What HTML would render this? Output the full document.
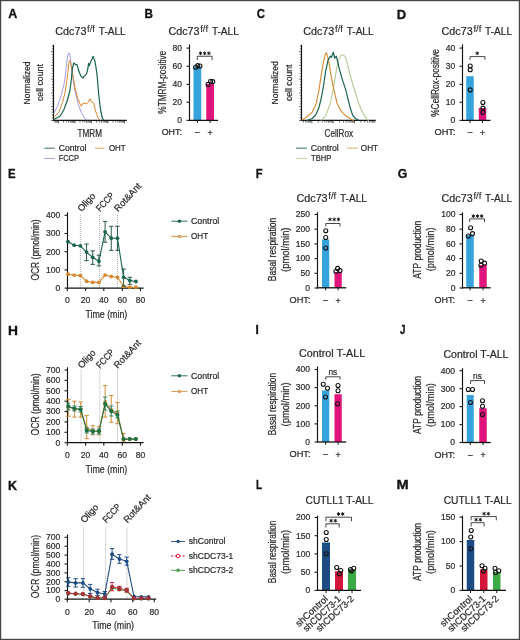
<!DOCTYPE html>
<html><head><meta charset="utf-8"><style>
html,body{margin:0;padding:0;background:#fff;width:520px;height:640px;overflow:hidden}
svg{display:block;font-family:"Liberation Sans",sans-serif;filter:blur(0.3px)}
text{stroke:#2a2a2a;stroke-width:0.22px}
</style></head><body>
<svg width="520" height="640" viewBox="0 0 520 640" font-family="Liberation Sans, sans-serif">
<rect x="0" y="0" width="520" height="640" fill="#fff"/>
<text transform="matrix(0.12519 0 0 0.12645 8.19 18.4)" x="0" y="0" font-size="100" font-weight="bold" fill="#111" style="stroke:#111;stroke-width:2.37">A</text>
<text x="55.3" y="34.8" font-size="10.4" text-anchor="start" font-weight="normal" fill="#2a2a2a" textLength="31.1" lengthAdjust="spacingAndGlyphs">Cdc73</text>
<text x="87.1" y="31.8" font-size="8.6" text-anchor="start" font-weight="normal" fill="#2a2a2a" textLength="7.9" lengthAdjust="spacingAndGlyphs" style="stroke-width:0.1px">f/f</text>
<text x="98.8" y="34.8" font-size="10.4" text-anchor="start" font-weight="normal" fill="#2a2a2a" textLength="26.9" lengthAdjust="spacingAndGlyphs">T-ALL</text>
<line x1="53.5" y1="44.7" x2="53.5" y2="121" stroke="#111" stroke-width="1.15"/>
<line x1="52.9" y1="120.4" x2="126.8" y2="120.4" stroke="#111" stroke-width="1.3"/>
<line x1="51.1" y1="120.4" x2="53.5" y2="120.4" stroke="#1a1a1a" stroke-width="0.7"/>
<line x1="51.9" y1="117.65" x2="53.5" y2="117.65" stroke="#1a1a1a" stroke-width="0.7"/>
<line x1="51.9" y1="114.9" x2="53.5" y2="114.9" stroke="#1a1a1a" stroke-width="0.7"/>
<line x1="51.9" y1="112.15" x2="53.5" y2="112.15" stroke="#1a1a1a" stroke-width="0.7"/>
<line x1="51.9" y1="109.4" x2="53.5" y2="109.4" stroke="#1a1a1a" stroke-width="0.7"/>
<line x1="51.1" y1="106.65" x2="53.5" y2="106.65" stroke="#1a1a1a" stroke-width="0.7"/>
<line x1="51.9" y1="103.9" x2="53.5" y2="103.9" stroke="#1a1a1a" stroke-width="0.7"/>
<line x1="51.9" y1="101.15" x2="53.5" y2="101.15" stroke="#1a1a1a" stroke-width="0.7"/>
<line x1="51.9" y1="98.4" x2="53.5" y2="98.4" stroke="#1a1a1a" stroke-width="0.7"/>
<line x1="51.9" y1="95.65" x2="53.5" y2="95.65" stroke="#1a1a1a" stroke-width="0.7"/>
<line x1="51.1" y1="92.9" x2="53.5" y2="92.9" stroke="#1a1a1a" stroke-width="0.7"/>
<line x1="51.9" y1="90.15" x2="53.5" y2="90.15" stroke="#1a1a1a" stroke-width="0.7"/>
<line x1="51.9" y1="87.4" x2="53.5" y2="87.4" stroke="#1a1a1a" stroke-width="0.7"/>
<line x1="51.9" y1="84.65" x2="53.5" y2="84.65" stroke="#1a1a1a" stroke-width="0.7"/>
<line x1="51.9" y1="81.9" x2="53.5" y2="81.9" stroke="#1a1a1a" stroke-width="0.7"/>
<line x1="51.1" y1="79.15" x2="53.5" y2="79.15" stroke="#1a1a1a" stroke-width="0.7"/>
<line x1="51.9" y1="76.4" x2="53.5" y2="76.4" stroke="#1a1a1a" stroke-width="0.7"/>
<line x1="51.9" y1="73.65" x2="53.5" y2="73.65" stroke="#1a1a1a" stroke-width="0.7"/>
<line x1="51.9" y1="70.9" x2="53.5" y2="70.9" stroke="#1a1a1a" stroke-width="0.7"/>
<line x1="51.9" y1="68.15" x2="53.5" y2="68.15" stroke="#1a1a1a" stroke-width="0.7"/>
<line x1="51.1" y1="65.4" x2="53.5" y2="65.4" stroke="#1a1a1a" stroke-width="0.7"/>
<line x1="51.9" y1="62.65" x2="53.5" y2="62.65" stroke="#1a1a1a" stroke-width="0.7"/>
<line x1="51.9" y1="59.9" x2="53.5" y2="59.9" stroke="#1a1a1a" stroke-width="0.7"/>
<line x1="51.9" y1="57.15" x2="53.5" y2="57.15" stroke="#1a1a1a" stroke-width="0.7"/>
<line x1="51.9" y1="54.4" x2="53.5" y2="54.4" stroke="#1a1a1a" stroke-width="0.7"/>
<line x1="51.1" y1="51.65" x2="53.5" y2="51.65" stroke="#1a1a1a" stroke-width="0.7"/>
<line x1="51.9" y1="48.9" x2="53.5" y2="48.9" stroke="#1a1a1a" stroke-width="0.7"/>
<line x1="51.9" y1="46.15" x2="53.5" y2="46.15" stroke="#1a1a1a" stroke-width="0.7"/>
<line x1="54.84" y1="120.4" x2="54.84" y2="122.6" stroke="#222" stroke-width="0.65"/>
<line x1="55.94" y1="120.4" x2="55.94" y2="122.6" stroke="#222" stroke-width="0.65"/>
<line x1="56.9" y1="120.4" x2="56.9" y2="122.6" stroke="#222" stroke-width="0.65"/>
<line x1="57.75" y1="120.4" x2="57.75" y2="122.6" stroke="#222" stroke-width="0.65"/>
<line x1="58.5" y1="120.4" x2="58.5" y2="123.4" stroke="#222" stroke-width="0.65"/>
<line x1="63.47" y1="120.4" x2="63.47" y2="122.6" stroke="#222" stroke-width="0.65"/>
<line x1="66.37" y1="120.4" x2="66.37" y2="122.6" stroke="#222" stroke-width="0.65"/>
<line x1="68.43" y1="120.4" x2="68.43" y2="122.6" stroke="#222" stroke-width="0.65"/>
<line x1="70.03" y1="120.4" x2="70.03" y2="122.6" stroke="#222" stroke-width="0.65"/>
<line x1="71.34" y1="120.4" x2="71.34" y2="122.6" stroke="#222" stroke-width="0.65"/>
<line x1="72.44" y1="120.4" x2="72.44" y2="122.6" stroke="#222" stroke-width="0.65"/>
<line x1="73.4" y1="120.4" x2="73.4" y2="122.6" stroke="#222" stroke-width="0.65"/>
<line x1="74.25" y1="120.4" x2="74.25" y2="122.6" stroke="#222" stroke-width="0.65"/>
<line x1="75" y1="120.4" x2="75" y2="123.4" stroke="#222" stroke-width="0.65"/>
<line x1="79.97" y1="120.4" x2="79.97" y2="122.6" stroke="#222" stroke-width="0.65"/>
<line x1="82.87" y1="120.4" x2="82.87" y2="122.6" stroke="#222" stroke-width="0.65"/>
<line x1="84.93" y1="120.4" x2="84.93" y2="122.6" stroke="#222" stroke-width="0.65"/>
<line x1="86.53" y1="120.4" x2="86.53" y2="122.6" stroke="#222" stroke-width="0.65"/>
<line x1="87.84" y1="120.4" x2="87.84" y2="122.6" stroke="#222" stroke-width="0.65"/>
<line x1="88.94" y1="120.4" x2="88.94" y2="122.6" stroke="#222" stroke-width="0.65"/>
<line x1="89.9" y1="120.4" x2="89.9" y2="122.6" stroke="#222" stroke-width="0.65"/>
<line x1="90.75" y1="120.4" x2="90.75" y2="122.6" stroke="#222" stroke-width="0.65"/>
<line x1="91.5" y1="120.4" x2="91.5" y2="123.4" stroke="#222" stroke-width="0.65"/>
<line x1="96.47" y1="120.4" x2="96.47" y2="122.6" stroke="#222" stroke-width="0.65"/>
<line x1="99.37" y1="120.4" x2="99.37" y2="122.6" stroke="#222" stroke-width="0.65"/>
<line x1="101.43" y1="120.4" x2="101.43" y2="122.6" stroke="#222" stroke-width="0.65"/>
<line x1="103.03" y1="120.4" x2="103.03" y2="122.6" stroke="#222" stroke-width="0.65"/>
<line x1="104.34" y1="120.4" x2="104.34" y2="122.6" stroke="#222" stroke-width="0.65"/>
<line x1="105.44" y1="120.4" x2="105.44" y2="122.6" stroke="#222" stroke-width="0.65"/>
<line x1="106.4" y1="120.4" x2="106.4" y2="122.6" stroke="#222" stroke-width="0.65"/>
<line x1="107.25" y1="120.4" x2="107.25" y2="122.6" stroke="#222" stroke-width="0.65"/>
<line x1="108" y1="120.4" x2="108" y2="123.4" stroke="#222" stroke-width="0.65"/>
<line x1="112.97" y1="120.4" x2="112.97" y2="122.6" stroke="#222" stroke-width="0.65"/>
<line x1="115.87" y1="120.4" x2="115.87" y2="122.6" stroke="#222" stroke-width="0.65"/>
<line x1="117.93" y1="120.4" x2="117.93" y2="122.6" stroke="#222" stroke-width="0.65"/>
<line x1="119.53" y1="120.4" x2="119.53" y2="122.6" stroke="#222" stroke-width="0.65"/>
<line x1="120.84" y1="120.4" x2="120.84" y2="122.6" stroke="#222" stroke-width="0.65"/>
<line x1="121.94" y1="120.4" x2="121.94" y2="122.6" stroke="#222" stroke-width="0.65"/>
<line x1="122.9" y1="120.4" x2="122.9" y2="122.6" stroke="#222" stroke-width="0.65"/>
<line x1="123.75" y1="120.4" x2="123.75" y2="122.6" stroke="#222" stroke-width="0.65"/>
<line x1="124.5" y1="120.4" x2="124.5" y2="123.4" stroke="#222" stroke-width="0.65"/>
<polyline points="53.6,113.5 54.4,112.5 57.5,106.25 61.25,95 64.4,82.5 66.25,67.5 67.5,56.25 68.75,52.75 69.75,53.75 70.6,61.25 72.5,76.25 75,91.25 78.1,103.75 81.25,112.5 85,118.75 87.5,120" fill="none" stroke="#a899e0" stroke-width="1" stroke-linejoin="round"/>
<polyline points="53.6,117.5 54.4,116.9 58.75,112.5 62.5,102.5 65,92.5 67.5,76.25 68.75,63.75 69.6,60.6 70.6,63.1 72.5,72.5 75,87.5 77.5,97.5 80,103.75 81.25,106.25 83.1,103.1 86.25,103.75 88.1,102.5 90,98.75 91.25,101.9 93.75,103.1 95.6,111.25 98.1,118.1 100,120" fill="none" stroke="#d4892e" stroke-width="1" stroke-linejoin="round"/>
<polyline points="53.6,119.5 55,118.75 60,116.25 63.75,110 67.5,100 70,90 71.4,79 72.3,69 73.75,63 74.3,63.6 75.8,64.7 76.9,64.4 77.8,67.3 78.7,70.8 80.1,74.2 81,76.3 82.1,77.1 83,78 84.1,76.3 85.6,74.8 86.7,73.4 87.9,68.5 88.5,63.3 89.3,65.9 90.2,63.3 91.3,60.4 92.2,58.7 93.1,56.3 93.9,58.4 94.8,60.4 96,67.3 97.1,75.4 98.75,95 100.6,110 102.5,118.75 103.75,120" fill="none" stroke="#1a6550" stroke-width="1.2" stroke-linejoin="round"/>
<text transform="translate(30 82.9) rotate(-90)" x="0" y="0" font-size="9.8" text-anchor="middle" font-weight="normal" fill="#2a2a2a" textLength="43" lengthAdjust="spacingAndGlyphs">Normalized</text>
<text transform="translate(43.2 82.6) rotate(-90)" x="0" y="0" font-size="9.8" text-anchor="middle" font-weight="normal" fill="#2a2a2a" textLength="37" lengthAdjust="spacingAndGlyphs">cell count</text>
<text x="77.6" y="136.8" font-size="10" text-anchor="start" font-weight="normal" fill="#2a2a2a" textLength="24.4" lengthAdjust="spacingAndGlyphs">TMRM</text>
<line x1="44.3" y1="148.2" x2="54.7" y2="148.2" stroke="#3f6f62" stroke-width="1"/>
<text x="58.7" y="150.9" font-size="8.9" text-anchor="start" font-weight="normal" fill="#2a2a2a" textLength="27.7" lengthAdjust="spacingAndGlyphs">Control</text>
<line x1="95" y1="148.2" x2="104.4" y2="148.2" stroke="#d9a060" stroke-width="1"/>
<text x="108.9" y="150.9" font-size="8.9" text-anchor="start" font-weight="normal" fill="#2a2a2a" textLength="16.7" lengthAdjust="spacingAndGlyphs">OHT</text>
<line x1="44.3" y1="158.5" x2="54.7" y2="158.5" stroke="#a9a0d8" stroke-width="1"/>
<text x="58.7" y="160.6" font-size="8.9" text-anchor="start" font-weight="normal" fill="#2a2a2a" textLength="20.2" lengthAdjust="spacingAndGlyphs">FCCP</text>
<text transform="matrix(0.11803 0 0 0.12645 144.61 18.2)" x="0" y="0" font-size="100" font-weight="bold" fill="#111" style="stroke:#111;stroke-width:2.37">B</text>
<text x="168.4" y="34.8" font-size="10.4" text-anchor="start" font-weight="normal" fill="#2a2a2a" textLength="31.1" lengthAdjust="spacingAndGlyphs">Cdc73</text>
<text x="200.2" y="31.8" font-size="8.6" text-anchor="start" font-weight="normal" fill="#2a2a2a" textLength="7.9" lengthAdjust="spacingAndGlyphs" style="stroke-width:0.1px">f/f</text>
<text x="211.9" y="34.8" font-size="10.4" text-anchor="start" font-weight="normal" fill="#2a2a2a" textLength="26.9" lengthAdjust="spacingAndGlyphs">T-ALL</text>
<rect x="193.5" y="66.8" width="7.75" height="53.6" fill="#35a3dc"/>
<rect x="206.25" y="83.8" width="7.75" height="36.6" fill="#e0157c"/>
<line x1="189.5" y1="44.5" x2="189.5" y2="121" stroke="#111" stroke-width="1.15"/>
<line x1="188.9" y1="120.4" x2="218" y2="120.4" stroke="#111" stroke-width="1.3"/>
<line x1="186.5" y1="48.1" x2="189.5" y2="48.1" stroke="#1a1a1a" stroke-width="1.1"/>
<text x="182" y="50.9" font-size="9.3" text-anchor="end" font-weight="normal" fill="#2a2a2a" textLength="9.5" lengthAdjust="spacingAndGlyphs">80</text>
<line x1="186.5" y1="66.25" x2="189.5" y2="66.25" stroke="#1a1a1a" stroke-width="1.1"/>
<text x="182" y="69.05" font-size="9.3" text-anchor="end" font-weight="normal" fill="#2a2a2a" textLength="9.5" lengthAdjust="spacingAndGlyphs">60</text>
<line x1="186.5" y1="84.4" x2="189.5" y2="84.4" stroke="#1a1a1a" stroke-width="1.1"/>
<text x="182" y="87.2" font-size="9.3" text-anchor="end" font-weight="normal" fill="#2a2a2a" textLength="9.5" lengthAdjust="spacingAndGlyphs">40</text>
<line x1="186.5" y1="102.25" x2="189.5" y2="102.25" stroke="#1a1a1a" stroke-width="1.1"/>
<text x="182" y="105.05" font-size="9.3" text-anchor="end" font-weight="normal" fill="#2a2a2a" textLength="9.5" lengthAdjust="spacingAndGlyphs">20</text>
<line x1="186.5" y1="120.4" x2="189.5" y2="120.4" stroke="#1a1a1a" stroke-width="1.1"/>
<text x="182" y="123.2" font-size="9.3" text-anchor="end" font-weight="normal" fill="#2a2a2a" textLength="4.75" lengthAdjust="spacingAndGlyphs">0</text>
<line x1="197.4" y1="120.4" x2="197.4" y2="123" stroke="#1a1a1a" stroke-width="1"/>
<line x1="210.1" y1="120.4" x2="210.1" y2="123" stroke="#1a1a1a" stroke-width="1"/>
<circle cx="195.6" cy="67.25" r="2" fill="none" stroke="#111" stroke-width="1.1"/>
<circle cx="197.75" cy="65.6" r="2" fill="none" stroke="#111" stroke-width="1.1"/>
<circle cx="200" cy="66" r="2" fill="none" stroke="#111" stroke-width="1.1"/>
<circle cx="208.1" cy="84.4" r="2" fill="none" stroke="#111" stroke-width="1.1"/>
<circle cx="210.6" cy="81.25" r="2" fill="none" stroke="#111" stroke-width="1.1"/>
<circle cx="212.75" cy="81.6" r="2" fill="none" stroke="#111" stroke-width="1.1"/>
<path d="M197.25 60 V56.25 H212.1 V60" fill="none" stroke="#333" stroke-width="0.9"/>
<path d="M200.5 51.85L200.5 54.75M199.24 52.57L201.76 54.02M201.76 52.57L199.24 54.02" stroke="#1a1a1a" stroke-width="1.0" stroke-linecap="round"/>
<path d="M204.7 51.85L204.7 54.75M203.44 52.57L205.96 54.02M205.96 52.57L203.44 54.02" stroke="#1a1a1a" stroke-width="1.0" stroke-linecap="round"/>
<path d="M208.9 51.85L208.9 54.75M207.64 52.57L210.16 54.02M210.16 52.57L207.64 54.02" stroke="#1a1a1a" stroke-width="1.0" stroke-linecap="round"/>
<text x="161.7" y="135.3" font-size="8.7" text-anchor="start" font-weight="normal" fill="#2a2a2a" textLength="20.3" lengthAdjust="spacingAndGlyphs">OHT:</text>
<text x="197.4" y="135.4" font-size="8.7" text-anchor="middle" font-weight="normal" fill="#2a2a2a" textLength="4.6" lengthAdjust="spacingAndGlyphs">–</text>
<text x="210.1" y="136.2" font-size="8.9" text-anchor="middle" font-weight="normal" fill="#2a2a2a">+</text>
<text transform="translate(165.5 82.2) rotate(-90)" x="0" y="0" font-size="10" text-anchor="middle" font-weight="normal" fill="#2a2a2a" textLength="63" lengthAdjust="spacingAndGlyphs">%TMRM-positive</text>
<text transform="matrix(0.11468 0 0 0.12645 256.63 18.4)" x="0" y="0" font-size="100" font-weight="bold" fill="#111" style="stroke:#111;stroke-width:2.37">C</text>
<text x="303.2" y="34.8" font-size="10.4" text-anchor="start" font-weight="normal" fill="#2a2a2a" textLength="31.1" lengthAdjust="spacingAndGlyphs">Cdc73</text>
<text x="335" y="31.8" font-size="8.6" text-anchor="start" font-weight="normal" fill="#2a2a2a" textLength="7.9" lengthAdjust="spacingAndGlyphs" style="stroke-width:0.1px">f/f</text>
<text x="346.7" y="34.8" font-size="10.4" text-anchor="start" font-weight="normal" fill="#2a2a2a" textLength="26.9" lengthAdjust="spacingAndGlyphs">T-ALL</text>
<line x1="301.5" y1="44.7" x2="301.5" y2="121" stroke="#111" stroke-width="1.15"/>
<line x1="300.9" y1="120.4" x2="375.7" y2="120.4" stroke="#111" stroke-width="1.3"/>
<line x1="299.1" y1="120.4" x2="301.5" y2="120.4" stroke="#1a1a1a" stroke-width="0.7"/>
<line x1="299.9" y1="117.65" x2="301.5" y2="117.65" stroke="#1a1a1a" stroke-width="0.7"/>
<line x1="299.9" y1="114.9" x2="301.5" y2="114.9" stroke="#1a1a1a" stroke-width="0.7"/>
<line x1="299.9" y1="112.15" x2="301.5" y2="112.15" stroke="#1a1a1a" stroke-width="0.7"/>
<line x1="299.9" y1="109.4" x2="301.5" y2="109.4" stroke="#1a1a1a" stroke-width="0.7"/>
<line x1="299.1" y1="106.65" x2="301.5" y2="106.65" stroke="#1a1a1a" stroke-width="0.7"/>
<line x1="299.9" y1="103.9" x2="301.5" y2="103.9" stroke="#1a1a1a" stroke-width="0.7"/>
<line x1="299.9" y1="101.15" x2="301.5" y2="101.15" stroke="#1a1a1a" stroke-width="0.7"/>
<line x1="299.9" y1="98.4" x2="301.5" y2="98.4" stroke="#1a1a1a" stroke-width="0.7"/>
<line x1="299.9" y1="95.65" x2="301.5" y2="95.65" stroke="#1a1a1a" stroke-width="0.7"/>
<line x1="299.1" y1="92.9" x2="301.5" y2="92.9" stroke="#1a1a1a" stroke-width="0.7"/>
<line x1="299.9" y1="90.15" x2="301.5" y2="90.15" stroke="#1a1a1a" stroke-width="0.7"/>
<line x1="299.9" y1="87.4" x2="301.5" y2="87.4" stroke="#1a1a1a" stroke-width="0.7"/>
<line x1="299.9" y1="84.65" x2="301.5" y2="84.65" stroke="#1a1a1a" stroke-width="0.7"/>
<line x1="299.9" y1="81.9" x2="301.5" y2="81.9" stroke="#1a1a1a" stroke-width="0.7"/>
<line x1="299.1" y1="79.15" x2="301.5" y2="79.15" stroke="#1a1a1a" stroke-width="0.7"/>
<line x1="299.9" y1="76.4" x2="301.5" y2="76.4" stroke="#1a1a1a" stroke-width="0.7"/>
<line x1="299.9" y1="73.65" x2="301.5" y2="73.65" stroke="#1a1a1a" stroke-width="0.7"/>
<line x1="299.9" y1="70.9" x2="301.5" y2="70.9" stroke="#1a1a1a" stroke-width="0.7"/>
<line x1="299.9" y1="68.15" x2="301.5" y2="68.15" stroke="#1a1a1a" stroke-width="0.7"/>
<line x1="299.1" y1="65.4" x2="301.5" y2="65.4" stroke="#1a1a1a" stroke-width="0.7"/>
<line x1="299.9" y1="62.65" x2="301.5" y2="62.65" stroke="#1a1a1a" stroke-width="0.7"/>
<line x1="299.9" y1="59.9" x2="301.5" y2="59.9" stroke="#1a1a1a" stroke-width="0.7"/>
<line x1="299.9" y1="57.15" x2="301.5" y2="57.15" stroke="#1a1a1a" stroke-width="0.7"/>
<line x1="299.9" y1="54.4" x2="301.5" y2="54.4" stroke="#1a1a1a" stroke-width="0.7"/>
<line x1="299.1" y1="51.65" x2="301.5" y2="51.65" stroke="#1a1a1a" stroke-width="0.7"/>
<line x1="299.9" y1="48.9" x2="301.5" y2="48.9" stroke="#1a1a1a" stroke-width="0.7"/>
<line x1="299.9" y1="46.15" x2="301.5" y2="46.15" stroke="#1a1a1a" stroke-width="0.7"/>
<line x1="303.42" y1="120.4" x2="303.42" y2="122.6" stroke="#222" stroke-width="0.65"/>
<line x1="305.49" y1="120.4" x2="305.49" y2="122.6" stroke="#222" stroke-width="0.65"/>
<line x1="307.17" y1="120.4" x2="307.17" y2="122.6" stroke="#222" stroke-width="0.65"/>
<line x1="308.6" y1="120.4" x2="308.6" y2="122.6" stroke="#222" stroke-width="0.65"/>
<line x1="309.84" y1="120.4" x2="309.84" y2="122.6" stroke="#222" stroke-width="0.65"/>
<line x1="310.93" y1="120.4" x2="310.93" y2="122.6" stroke="#222" stroke-width="0.65"/>
<line x1="311.9" y1="120.4" x2="311.9" y2="123.4" stroke="#222" stroke-width="0.65"/>
<line x1="318.31" y1="120.4" x2="318.31" y2="122.6" stroke="#222" stroke-width="0.65"/>
<line x1="322.06" y1="120.4" x2="322.06" y2="122.6" stroke="#222" stroke-width="0.65"/>
<line x1="324.72" y1="120.4" x2="324.72" y2="122.6" stroke="#222" stroke-width="0.65"/>
<line x1="326.79" y1="120.4" x2="326.79" y2="122.6" stroke="#222" stroke-width="0.65"/>
<line x1="328.47" y1="120.4" x2="328.47" y2="122.6" stroke="#222" stroke-width="0.65"/>
<line x1="329.9" y1="120.4" x2="329.9" y2="122.6" stroke="#222" stroke-width="0.65"/>
<line x1="331.14" y1="120.4" x2="331.14" y2="122.6" stroke="#222" stroke-width="0.65"/>
<line x1="332.23" y1="120.4" x2="332.23" y2="122.6" stroke="#222" stroke-width="0.65"/>
<line x1="333.2" y1="120.4" x2="333.2" y2="123.4" stroke="#222" stroke-width="0.65"/>
<line x1="339.61" y1="120.4" x2="339.61" y2="122.6" stroke="#222" stroke-width="0.65"/>
<line x1="343.36" y1="120.4" x2="343.36" y2="122.6" stroke="#222" stroke-width="0.65"/>
<line x1="346.02" y1="120.4" x2="346.02" y2="122.6" stroke="#222" stroke-width="0.65"/>
<line x1="348.09" y1="120.4" x2="348.09" y2="122.6" stroke="#222" stroke-width="0.65"/>
<line x1="349.77" y1="120.4" x2="349.77" y2="122.6" stroke="#222" stroke-width="0.65"/>
<line x1="351.2" y1="120.4" x2="351.2" y2="122.6" stroke="#222" stroke-width="0.65"/>
<line x1="352.44" y1="120.4" x2="352.44" y2="122.6" stroke="#222" stroke-width="0.65"/>
<line x1="353.53" y1="120.4" x2="353.53" y2="122.6" stroke="#222" stroke-width="0.65"/>
<line x1="354.5" y1="120.4" x2="354.5" y2="123.4" stroke="#222" stroke-width="0.65"/>
<line x1="360.91" y1="120.4" x2="360.91" y2="122.6" stroke="#222" stroke-width="0.65"/>
<line x1="364.66" y1="120.4" x2="364.66" y2="122.6" stroke="#222" stroke-width="0.65"/>
<line x1="367.32" y1="120.4" x2="367.32" y2="122.6" stroke="#222" stroke-width="0.65"/>
<line x1="369.39" y1="120.4" x2="369.39" y2="122.6" stroke="#222" stroke-width="0.65"/>
<line x1="371.07" y1="120.4" x2="371.07" y2="122.6" stroke="#222" stroke-width="0.65"/>
<line x1="372.5" y1="120.4" x2="372.5" y2="122.6" stroke="#222" stroke-width="0.65"/>
<line x1="373.74" y1="120.4" x2="373.74" y2="122.6" stroke="#222" stroke-width="0.65"/>
<line x1="374.83" y1="120.4" x2="374.83" y2="122.6" stroke="#222" stroke-width="0.65"/>
<polyline points="321.1,120.4 325.7,115.8 330.3,103.5 333.4,88.1 336.5,69.6 338.8,58.8 341.1,55 343.4,55 345.7,57.3 348,66.5 351.1,78.8 354.9,91.2 358.8,103.5 362.6,112.7 366.5,118.8 368.8,120.4" fill="none" stroke="#b9cda0" stroke-width="1.2" stroke-linejoin="round"/>
<polyline points="301.8,120.1 307.2,116.5 311.8,112.7 315.7,105 318.8,91.2 321.1,75.8 323.4,61.9 325.4,54.2 326.2,52.7 327.2,55 328.8,61.9 331.1,75.8 334.2,91.2 337.2,103.5 341.1,111.2 345.7,115.8 350.3,118.8 353.4,120.4" fill="none" stroke="#d4892e" stroke-width="1.1" stroke-linejoin="round"/>
<polyline points="307.2,120.4 311.8,118.8 315.7,115 318.8,108.1 321.1,98.8 323.4,86.5 325.7,71.2 328,60.4 330.3,56.1 331.5,57.3 333.3,52.2 334.7,58.1 336.2,56.1 337.6,61.5 339.5,69.6 342.6,80.4 345.7,89.6 348,98.8 350.3,108.1 352.6,115 355.7,118.8 358.8,120.4" fill="none" stroke="#1a6550" stroke-width="1.2" stroke-linejoin="round"/>
<text transform="translate(278 82.8) rotate(-90)" x="0" y="0" font-size="9.8" text-anchor="middle" font-weight="normal" fill="#2a2a2a" textLength="43.3" lengthAdjust="spacingAndGlyphs">Normalized</text>
<text transform="translate(291.5 82.8) rotate(-90)" x="0" y="0" font-size="9.8" text-anchor="middle" font-weight="normal" fill="#2a2a2a" textLength="36.6" lengthAdjust="spacingAndGlyphs">cell count</text>
<text x="324.5" y="137.2" font-size="10" text-anchor="start" font-weight="normal" fill="#2a2a2a" textLength="28.5" lengthAdjust="spacingAndGlyphs">CellRox</text>
<line x1="296" y1="148.2" x2="306.8" y2="148.2" stroke="#3f6f62" stroke-width="1"/>
<text x="310.8" y="150.9" font-size="8.9" text-anchor="start" font-weight="normal" fill="#2a2a2a" textLength="28" lengthAdjust="spacingAndGlyphs">Control</text>
<line x1="347" y1="148.2" x2="357.8" y2="148.2" stroke="#cfae70" stroke-width="1"/>
<text x="360.8" y="150.9" font-size="8.9" text-anchor="start" font-weight="normal" fill="#2a2a2a" textLength="17.3" lengthAdjust="spacingAndGlyphs">OHT</text>
<line x1="296" y1="158.5" x2="306.8" y2="158.5" stroke="#c8d8b0" stroke-width="1.2"/>
<text x="311" y="160.6" font-size="8.9" text-anchor="start" font-weight="normal" fill="#2a2a2a" textLength="20.3" lengthAdjust="spacingAndGlyphs">TBHP</text>
<text transform="matrix(0.13051 0 0 0.12645 396.73 18.5)" x="0" y="0" font-size="100" font-weight="bold" fill="#111" style="stroke:#111;stroke-width:2.37">D</text>
<text x="441.6" y="34.8" font-size="10.4" text-anchor="start" font-weight="normal" fill="#2a2a2a" textLength="31.1" lengthAdjust="spacingAndGlyphs">Cdc73</text>
<text x="473.4" y="31.8" font-size="8.6" text-anchor="start" font-weight="normal" fill="#2a2a2a" textLength="7.9" lengthAdjust="spacingAndGlyphs" style="stroke-width:0.1px">f/f</text>
<text x="485.1" y="34.8" font-size="10.4" text-anchor="start" font-weight="normal" fill="#2a2a2a" textLength="26.9" lengthAdjust="spacingAndGlyphs">T-ALL</text>
<rect x="466.25" y="76.25" width="7.5" height="44.15" fill="#35a3dc"/>
<rect x="478.75" y="108" width="7.5" height="12.4" fill="#e0157c"/>
<line x1="462.5" y1="44.5" x2="462.5" y2="121" stroke="#111" stroke-width="1.15"/>
<line x1="461.9" y1="120.4" x2="490.5" y2="120.4" stroke="#111" stroke-width="1.3"/>
<line x1="459.5" y1="48.1" x2="462.5" y2="48.1" stroke="#1a1a1a" stroke-width="1.1"/>
<text x="455.2" y="50.9" font-size="9.3" text-anchor="end" font-weight="normal" fill="#2a2a2a" textLength="9.5" lengthAdjust="spacingAndGlyphs">40</text>
<line x1="459.5" y1="66.25" x2="462.5" y2="66.25" stroke="#1a1a1a" stroke-width="1.1"/>
<text x="455.2" y="69.05" font-size="9.3" text-anchor="end" font-weight="normal" fill="#2a2a2a" textLength="9.5" lengthAdjust="spacingAndGlyphs">30</text>
<line x1="459.5" y1="84.4" x2="462.5" y2="84.4" stroke="#1a1a1a" stroke-width="1.1"/>
<text x="455.2" y="87.2" font-size="9.3" text-anchor="end" font-weight="normal" fill="#2a2a2a" textLength="9.5" lengthAdjust="spacingAndGlyphs">20</text>
<line x1="459.5" y1="102.25" x2="462.5" y2="102.25" stroke="#1a1a1a" stroke-width="1.1"/>
<text x="455.2" y="105.05" font-size="9.3" text-anchor="end" font-weight="normal" fill="#2a2a2a" textLength="9.5" lengthAdjust="spacingAndGlyphs">10</text>
<line x1="459.5" y1="120.4" x2="462.5" y2="120.4" stroke="#1a1a1a" stroke-width="1.1"/>
<text x="455.2" y="123.2" font-size="9.3" text-anchor="end" font-weight="normal" fill="#2a2a2a" textLength="4.75" lengthAdjust="spacingAndGlyphs">0</text>
<line x1="470" y1="120.4" x2="470" y2="123" stroke="#1a1a1a" stroke-width="1"/>
<line x1="482.5" y1="120.4" x2="482.5" y2="123" stroke="#1a1a1a" stroke-width="1"/>
<circle cx="470.2" cy="66" r="2" fill="none" stroke="#111" stroke-width="1.1"/>
<circle cx="470.2" cy="69.8" r="2" fill="none" stroke="#111" stroke-width="1.1"/>
<circle cx="470.2" cy="89.9" r="2" fill="none" stroke="#111" stroke-width="1.1"/>
<circle cx="482.9" cy="102.5" r="2" fill="none" stroke="#111" stroke-width="1.1"/>
<circle cx="482.9" cy="108.1" r="2" fill="none" stroke="#111" stroke-width="1.1"/>
<circle cx="482.9" cy="112.4" r="2" fill="none" stroke="#111" stroke-width="1.1"/>
<path d="M470 59.8 V56.6 H485 V59.8" fill="none" stroke="#333" stroke-width="0.9"/>
<path d="M477.2 51.85L477.2 54.75M475.94 52.57L478.46 54.02M478.46 52.57L475.94 54.02" stroke="#1a1a1a" stroke-width="1.0" stroke-linecap="round"/>
<text x="434.5" y="135.3" font-size="8.7" text-anchor="start" font-weight="normal" fill="#2a2a2a" textLength="21" lengthAdjust="spacingAndGlyphs">OHT:</text>
<text x="470" y="135.4" font-size="8.7" text-anchor="middle" font-weight="normal" fill="#2a2a2a" textLength="4.6" lengthAdjust="spacingAndGlyphs">–</text>
<text x="482.5" y="136.2" font-size="8.9" text-anchor="middle" font-weight="normal" fill="#2a2a2a">+</text>
<text transform="translate(438.5 83) rotate(-90)" x="0" y="0" font-size="10" text-anchor="middle" font-weight="normal" fill="#2a2a2a" textLength="67.6" lengthAdjust="spacingAndGlyphs">%CellRox-positive</text>
<text transform="matrix(0.11408 0 0 0.12645 8.04 177.5)" x="0" y="0" font-size="100" font-weight="bold" fill="#111" style="stroke:#111;stroke-width:2.37">E</text>
<line x1="80.4" y1="215" x2="80.4" y2="288.1" stroke="#808080" stroke-width="0.7" stroke-dasharray="0.9 1.1"/>
<line x1="99.5" y1="215" x2="99.5" y2="288.1" stroke="#808080" stroke-width="0.7" stroke-dasharray="0.9 1.1"/>
<line x1="117.5" y1="215" x2="117.5" y2="288.1" stroke="#808080" stroke-width="0.7" stroke-dasharray="0.9 1.1"/>
<line x1="67.5" y1="212.3" x2="67.5" y2="288.7" stroke="#111" stroke-width="1.15"/>
<line x1="66.9" y1="288.1" x2="143.6" y2="288.1" stroke="#111" stroke-width="1.3"/>
<line x1="64.5" y1="215.3" x2="67.5" y2="215.3" stroke="#1a1a1a" stroke-width="1.1"/>
<text x="60.2" y="218.1" font-size="9.3" text-anchor="end" font-weight="normal" fill="#2a2a2a" textLength="14.25" lengthAdjust="spacingAndGlyphs">400</text>
<line x1="64.5" y1="233.5" x2="67.5" y2="233.5" stroke="#1a1a1a" stroke-width="1.1"/>
<text x="60.2" y="236.3" font-size="9.3" text-anchor="end" font-weight="normal" fill="#2a2a2a" textLength="14.25" lengthAdjust="spacingAndGlyphs">300</text>
<line x1="64.5" y1="251.7" x2="67.5" y2="251.7" stroke="#1a1a1a" stroke-width="1.1"/>
<text x="60.2" y="254.5" font-size="9.3" text-anchor="end" font-weight="normal" fill="#2a2a2a" textLength="14.25" lengthAdjust="spacingAndGlyphs">200</text>
<line x1="64.5" y1="269.9" x2="67.5" y2="269.9" stroke="#1a1a1a" stroke-width="1.1"/>
<text x="60.2" y="272.7" font-size="9.3" text-anchor="end" font-weight="normal" fill="#2a2a2a" textLength="14.25" lengthAdjust="spacingAndGlyphs">100</text>
<line x1="64.5" y1="288.1" x2="67.5" y2="288.1" stroke="#1a1a1a" stroke-width="1.1"/>
<text x="60.2" y="290.9" font-size="9.3" text-anchor="end" font-weight="normal" fill="#2a2a2a" textLength="4.75" lengthAdjust="spacingAndGlyphs">0</text>
<line x1="67.3" y1="288.1" x2="67.3" y2="291.1" stroke="#1a1a1a" stroke-width="1.1"/>
<text x="67.3" y="302.5" font-size="9.3" text-anchor="middle" font-weight="normal" fill="#2a2a2a" textLength="4.75" lengthAdjust="spacingAndGlyphs">0</text>
<line x1="85.6" y1="288.1" x2="85.6" y2="291.1" stroke="#1a1a1a" stroke-width="1.1"/>
<text x="85.6" y="302.5" font-size="9.3" text-anchor="middle" font-weight="normal" fill="#2a2a2a" textLength="9.5" lengthAdjust="spacingAndGlyphs">20</text>
<line x1="103.8" y1="288.1" x2="103.8" y2="291.1" stroke="#1a1a1a" stroke-width="1.1"/>
<text x="103.8" y="302.5" font-size="9.3" text-anchor="middle" font-weight="normal" fill="#2a2a2a" textLength="9.5" lengthAdjust="spacingAndGlyphs">40</text>
<line x1="122.3" y1="288.1" x2="122.3" y2="291.1" stroke="#1a1a1a" stroke-width="1.1"/>
<text x="122.3" y="302.5" font-size="9.3" text-anchor="middle" font-weight="normal" fill="#2a2a2a" textLength="9.5" lengthAdjust="spacingAndGlyphs">60</text>
<line x1="140.5" y1="288.1" x2="140.5" y2="291.1" stroke="#1a1a1a" stroke-width="1.1"/>
<text x="140.5" y="302.5" font-size="9.3" text-anchor="middle" font-weight="normal" fill="#2a2a2a" textLength="9.5" lengthAdjust="spacingAndGlyphs">80</text>
<text transform="translate(81.4 212.2) rotate(-47)" x="0" y="0" font-size="9.4" text-anchor="start" font-weight="normal" fill="#2a2a2a" textLength="21.5" lengthAdjust="spacingAndGlyphs">Oligo</text>
<text transform="translate(100 212.2) rotate(-47)" x="0" y="0" font-size="9.4" text-anchor="start" font-weight="normal" fill="#2a2a2a" textLength="22" lengthAdjust="spacingAndGlyphs">FCCP</text>
<text transform="translate(118 212.2) rotate(-47)" x="0" y="0" font-size="9.4" text-anchor="start" font-weight="normal" fill="#2a2a2a" textLength="35" lengthAdjust="spacingAndGlyphs">Rot&amp;Ant</text>
<polyline points="68,274.2 74.18,275.1 80.36,275.6 86.54,281.2 92.72,282.4 98.9,282.4 105.08,275.1 111.26,276.5 117.44,277.3 123.62,286.3 129.8,287.2 135.98,287.2" fill="none" stroke="#d4892e" stroke-width="1.1" stroke-linejoin="round"/>
<circle cx="68" cy="274.2" r="1.9" fill="#d4892e"/>
<circle cx="74.18" cy="275.1" r="1.9" fill="#d4892e"/>
<circle cx="80.36" cy="275.6" r="1.9" fill="#d4892e"/>
<circle cx="86.54" cy="281.2" r="1.9" fill="#d4892e"/>
<circle cx="92.72" cy="282.4" r="1.9" fill="#d4892e"/>
<circle cx="98.9" cy="282.4" r="1.9" fill="#d4892e"/>
<circle cx="105.08" cy="275.1" r="1.9" fill="#d4892e"/>
<circle cx="111.26" cy="276.5" r="1.9" fill="#d4892e"/>
<circle cx="117.44" cy="277.3" r="1.9" fill="#d4892e"/>
<circle cx="123.62" cy="286.3" r="1.9" fill="#d4892e"/>
<circle cx="129.8" cy="287.2" r="1.9" fill="#d4892e"/>
<circle cx="135.98" cy="287.2" r="1.9" fill="#d4892e"/>
<line x1="86.54" y1="244" x2="86.54" y2="260.7" stroke="#21503f" stroke-width="0.95"/>
<line x1="84.34" y1="244" x2="88.74" y2="244" stroke="#21503f" stroke-width="0.95"/>
<line x1="84.34" y1="260.7" x2="88.74" y2="260.7" stroke="#21503f" stroke-width="0.95"/>
<line x1="92.72" y1="250.9" x2="92.72" y2="264.4" stroke="#21503f" stroke-width="0.95"/>
<line x1="90.52" y1="250.9" x2="94.92" y2="250.9" stroke="#21503f" stroke-width="0.95"/>
<line x1="90.52" y1="264.4" x2="94.92" y2="264.4" stroke="#21503f" stroke-width="0.95"/>
<line x1="98.9" y1="255.2" x2="98.9" y2="265.9" stroke="#21503f" stroke-width="0.95"/>
<line x1="96.7" y1="255.2" x2="101.1" y2="255.2" stroke="#21503f" stroke-width="0.95"/>
<line x1="96.7" y1="265.9" x2="101.1" y2="265.9" stroke="#21503f" stroke-width="0.95"/>
<line x1="105.08" y1="221.4" x2="105.08" y2="242.2" stroke="#21503f" stroke-width="0.95"/>
<line x1="102.88" y1="221.4" x2="107.28" y2="221.4" stroke="#21503f" stroke-width="0.95"/>
<line x1="102.88" y1="242.2" x2="107.28" y2="242.2" stroke="#21503f" stroke-width="0.95"/>
<line x1="111.26" y1="226.3" x2="111.26" y2="250.3" stroke="#21503f" stroke-width="0.95"/>
<line x1="109.06" y1="226.3" x2="113.46" y2="226.3" stroke="#21503f" stroke-width="0.95"/>
<line x1="109.06" y1="250.3" x2="113.46" y2="250.3" stroke="#21503f" stroke-width="0.95"/>
<line x1="117.44" y1="226.3" x2="117.44" y2="250.3" stroke="#21503f" stroke-width="0.95"/>
<line x1="115.24" y1="226.3" x2="119.64" y2="226.3" stroke="#21503f" stroke-width="0.95"/>
<line x1="115.24" y1="250.3" x2="119.64" y2="250.3" stroke="#21503f" stroke-width="0.95"/>
<line x1="123.62" y1="269" x2="123.62" y2="286" stroke="#21503f" stroke-width="0.95"/>
<line x1="121.42" y1="269" x2="125.82" y2="269" stroke="#21503f" stroke-width="0.95"/>
<line x1="121.42" y1="286" x2="125.82" y2="286" stroke="#21503f" stroke-width="0.95"/>
<line x1="129.8" y1="277.3" x2="129.8" y2="284.3" stroke="#21503f" stroke-width="0.95"/>
<line x1="127.6" y1="277.3" x2="132" y2="277.3" stroke="#21503f" stroke-width="0.95"/>
<line x1="127.6" y1="284.3" x2="132" y2="284.3" stroke="#21503f" stroke-width="0.95"/>
<polyline points="68,241.7 74.18,245.2 80.36,245.8 86.54,252.1 92.72,257.3 98.9,261.2 105.08,231.8 111.26,238.2 117.44,238.2 123.62,277.3 129.8,280.6 135.98,281.5" fill="none" stroke="#1a6550" stroke-width="1.1" stroke-linejoin="round"/>
<circle cx="68" cy="241.7" r="1.9" fill="#1a6550"/>
<circle cx="74.18" cy="245.2" r="1.9" fill="#1a6550"/>
<circle cx="80.36" cy="245.8" r="1.9" fill="#1a6550"/>
<circle cx="86.54" cy="252.1" r="1.9" fill="#1a6550"/>
<circle cx="92.72" cy="257.3" r="1.9" fill="#1a6550"/>
<circle cx="98.9" cy="261.2" r="1.9" fill="#1a6550"/>
<circle cx="105.08" cy="231.8" r="1.9" fill="#1a6550"/>
<circle cx="111.26" cy="238.2" r="1.9" fill="#1a6550"/>
<circle cx="117.44" cy="238.2" r="1.9" fill="#1a6550"/>
<circle cx="123.62" cy="277.3" r="1.9" fill="#1a6550"/>
<circle cx="129.8" cy="280.6" r="1.9" fill="#1a6550"/>
<circle cx="135.98" cy="281.5" r="1.9" fill="#1a6550"/>
<text transform="translate(38.8 250) rotate(-90)" x="0" y="0" font-size="10.8" text-anchor="middle" font-weight="normal" fill="#2a2a2a" textLength="61.2" lengthAdjust="spacingAndGlyphs">OCR (pmol/min)</text>
<text x="106.35" y="318" font-size="10.8" text-anchor="middle" font-weight="normal" fill="#2a2a2a" textLength="41.9" lengthAdjust="spacingAndGlyphs">Time (min)</text>
<line x1="171.25" y1="221.2" x2="187.5" y2="221.2" stroke="#1a6550" stroke-width="0.9"/>
<circle cx="179.4" cy="221.2" r="1.7" fill="#1a6550"/>
<text x="191" y="223.9" font-size="9.2" text-anchor="start" font-weight="normal" fill="#2a2a2a" textLength="28.2" lengthAdjust="spacingAndGlyphs">Control</text>
<line x1="171.25" y1="236.5" x2="187.5" y2="236.5" stroke="#dca060" stroke-width="1.3"/>
<circle cx="179.4" cy="236.5" r="1.7" fill="#dca060"/>
<text x="191" y="239.4" font-size="9.2" text-anchor="start" font-weight="normal" fill="#2a2a2a" textLength="17.1" lengthAdjust="spacingAndGlyphs">OHT</text>
<text transform="matrix(0.11144 0 0 0.12645 255.7 177.8)" x="0" y="0" font-size="100" font-weight="bold" fill="#111" style="stroke:#111;stroke-width:2.37">F</text>
<text x="296.5" y="201.8" font-size="10.4" text-anchor="start" font-weight="normal" fill="#2a2a2a" textLength="31.1" lengthAdjust="spacingAndGlyphs">Cdc73</text>
<text x="328.3" y="198.8" font-size="8.6" text-anchor="start" font-weight="normal" fill="#2a2a2a" textLength="7.9" lengthAdjust="spacingAndGlyphs" style="stroke-width:0.1px">f/f</text>
<text x="340" y="201.8" font-size="10.4" text-anchor="start" font-weight="normal" fill="#2a2a2a" textLength="26.9" lengthAdjust="spacingAndGlyphs">T-ALL</text>
<rect x="322" y="239.5" width="7.25" height="48.3" fill="#35a3dc"/>
<rect x="334.5" y="272.2" width="7.25" height="15.6" fill="#e0157c"/>
<line x1="317.5" y1="212.3" x2="317.5" y2="288.4" stroke="#111" stroke-width="1.15"/>
<line x1="316.9" y1="287.8" x2="346.25" y2="287.8" stroke="#111" stroke-width="1.3"/>
<line x1="314.5" y1="214.5" x2="317.5" y2="214.5" stroke="#1a1a1a" stroke-width="1.1"/>
<text x="309.9" y="217.3" font-size="9.3" text-anchor="end" font-weight="normal" fill="#2a2a2a" textLength="14.25" lengthAdjust="spacingAndGlyphs">250</text>
<line x1="314.5" y1="229.2" x2="317.5" y2="229.2" stroke="#1a1a1a" stroke-width="1.1"/>
<text x="309.9" y="232" font-size="9.3" text-anchor="end" font-weight="normal" fill="#2a2a2a" textLength="14.25" lengthAdjust="spacingAndGlyphs">200</text>
<line x1="314.5" y1="243.9" x2="317.5" y2="243.9" stroke="#1a1a1a" stroke-width="1.1"/>
<text x="309.9" y="246.7" font-size="9.3" text-anchor="end" font-weight="normal" fill="#2a2a2a" textLength="14.25" lengthAdjust="spacingAndGlyphs">150</text>
<line x1="314.5" y1="258.6" x2="317.5" y2="258.6" stroke="#1a1a1a" stroke-width="1.1"/>
<text x="309.9" y="261.4" font-size="9.3" text-anchor="end" font-weight="normal" fill="#2a2a2a" textLength="14.25" lengthAdjust="spacingAndGlyphs">100</text>
<line x1="314.5" y1="273.3" x2="317.5" y2="273.3" stroke="#1a1a1a" stroke-width="1.1"/>
<text x="309.9" y="276.1" font-size="9.3" text-anchor="end" font-weight="normal" fill="#2a2a2a" textLength="9.5" lengthAdjust="spacingAndGlyphs">50</text>
<line x1="314.5" y1="288" x2="317.5" y2="288" stroke="#1a1a1a" stroke-width="1.1"/>
<text x="309.9" y="290.8" font-size="9.3" text-anchor="end" font-weight="normal" fill="#2a2a2a" textLength="4.75" lengthAdjust="spacingAndGlyphs">0</text>
<line x1="325.6" y1="287.8" x2="325.6" y2="290.4" stroke="#1a1a1a" stroke-width="1"/>
<line x1="338.1" y1="287.8" x2="338.1" y2="290.4" stroke="#1a1a1a" stroke-width="1"/>
<circle cx="325.75" cy="230.75" r="2" fill="none" stroke="#111" stroke-width="1.1"/>
<circle cx="325.75" cy="237.5" r="2" fill="none" stroke="#111" stroke-width="1.1"/>
<circle cx="325.75" cy="248" r="2" fill="none" stroke="#111" stroke-width="1.1"/>
<circle cx="335.9" cy="271.3" r="2" fill="none" stroke="#111" stroke-width="1.1"/>
<circle cx="337.6" cy="268.4" r="2" fill="none" stroke="#111" stroke-width="1.1"/>
<circle cx="340" cy="270.6" r="2" fill="none" stroke="#111" stroke-width="1.1"/>
<path d="M325.75 226.5 V223.5 H340 V226.5" fill="none" stroke="#333" stroke-width="0.9"/>
<path d="M330 217.95L330 220.85M328.74 218.68L331.26 220.12M331.26 218.68L328.74 220.12" stroke="#1a1a1a" stroke-width="1.0" stroke-linecap="round"/>
<path d="M334.2 217.95L334.2 220.85M332.94 218.68L335.46 220.12M335.46 218.68L332.94 220.12" stroke="#1a1a1a" stroke-width="1.0" stroke-linecap="round"/>
<path d="M338.4 217.95L338.4 220.85M337.14 218.68L339.66 220.12M339.66 218.68L337.14 220.12" stroke="#1a1a1a" stroke-width="1.0" stroke-linecap="round"/>
<text x="289.5" y="302.6" font-size="8.7" text-anchor="start" font-weight="normal" fill="#2a2a2a" textLength="21" lengthAdjust="spacingAndGlyphs">OHT:</text>
<text x="325.6" y="302.7" font-size="8.7" text-anchor="middle" font-weight="normal" fill="#2a2a2a" textLength="4.6" lengthAdjust="spacingAndGlyphs">–</text>
<text x="338.1" y="303.5" font-size="8.9" text-anchor="middle" font-weight="normal" fill="#2a2a2a">+</text>
<text transform="translate(276.2 249.4) rotate(-90)" x="0" y="0" font-size="10.2" text-anchor="middle" font-weight="normal" fill="#2a2a2a" textLength="63.5" lengthAdjust="spacingAndGlyphs">Basal respiration</text>
<text transform="translate(288.8 249.7) rotate(-90)" x="0" y="0" font-size="10.2" text-anchor="middle" font-weight="normal" fill="#2a2a2a" textLength="44.4" lengthAdjust="spacingAndGlyphs">(pmol/min)</text>
<text transform="matrix(0.12296 0 0 0.12645 397.8 177.6)" x="0" y="0" font-size="100" font-weight="bold" fill="#111" style="stroke:#111;stroke-width:2.37">G</text>
<text x="441.6" y="201.8" font-size="10.4" text-anchor="start" font-weight="normal" fill="#2a2a2a" textLength="31.1" lengthAdjust="spacingAndGlyphs">Cdc73</text>
<text x="473.4" y="198.8" font-size="8.6" text-anchor="start" font-weight="normal" fill="#2a2a2a" textLength="7.9" lengthAdjust="spacingAndGlyphs" style="stroke-width:0.1px">f/f</text>
<text x="485.1" y="201.8" font-size="10.4" text-anchor="start" font-weight="normal" fill="#2a2a2a" textLength="26.9" lengthAdjust="spacingAndGlyphs">T-ALL</text>
<rect x="466.25" y="235" width="7.5" height="52.8" fill="#35a3dc"/>
<rect x="479.25" y="265" width="7.5" height="22.8" fill="#e0157c"/>
<line x1="462.5" y1="212.3" x2="462.5" y2="288.4" stroke="#111" stroke-width="1.15"/>
<line x1="461.9" y1="287.8" x2="490.75" y2="287.8" stroke="#111" stroke-width="1.3"/>
<line x1="459.5" y1="214.5" x2="462.5" y2="214.5" stroke="#1a1a1a" stroke-width="1.1"/>
<text x="455.5" y="217.3" font-size="9.3" text-anchor="end" font-weight="normal" fill="#2a2a2a" textLength="14.25" lengthAdjust="spacingAndGlyphs">100</text>
<line x1="459.5" y1="229.2" x2="462.5" y2="229.2" stroke="#1a1a1a" stroke-width="1.1"/>
<text x="455.5" y="232" font-size="9.3" text-anchor="end" font-weight="normal" fill="#2a2a2a" textLength="9.5" lengthAdjust="spacingAndGlyphs">80</text>
<line x1="459.5" y1="243.9" x2="462.5" y2="243.9" stroke="#1a1a1a" stroke-width="1.1"/>
<text x="455.5" y="246.7" font-size="9.3" text-anchor="end" font-weight="normal" fill="#2a2a2a" textLength="9.5" lengthAdjust="spacingAndGlyphs">60</text>
<line x1="459.5" y1="258.6" x2="462.5" y2="258.6" stroke="#1a1a1a" stroke-width="1.1"/>
<text x="455.5" y="261.4" font-size="9.3" text-anchor="end" font-weight="normal" fill="#2a2a2a" textLength="9.5" lengthAdjust="spacingAndGlyphs">40</text>
<line x1="459.5" y1="273.3" x2="462.5" y2="273.3" stroke="#1a1a1a" stroke-width="1.1"/>
<text x="455.5" y="276.1" font-size="9.3" text-anchor="end" font-weight="normal" fill="#2a2a2a" textLength="9.5" lengthAdjust="spacingAndGlyphs">20</text>
<line x1="459.5" y1="288" x2="462.5" y2="288" stroke="#1a1a1a" stroke-width="1.1"/>
<text x="455.5" y="290.8" font-size="9.3" text-anchor="end" font-weight="normal" fill="#2a2a2a" textLength="4.75" lengthAdjust="spacingAndGlyphs">0</text>
<line x1="470" y1="287.8" x2="470" y2="290.4" stroke="#1a1a1a" stroke-width="1"/>
<line x1="483" y1="287.8" x2="483" y2="290.4" stroke="#1a1a1a" stroke-width="1"/>
<circle cx="470.6" cy="227.7" r="2" fill="none" stroke="#111" stroke-width="1.1"/>
<circle cx="468.3" cy="236" r="2" fill="none" stroke="#111" stroke-width="1.1"/>
<circle cx="472.5" cy="233.6" r="2" fill="none" stroke="#111" stroke-width="1.1"/>
<circle cx="481.2" cy="261" r="2" fill="none" stroke="#111" stroke-width="1.1"/>
<circle cx="484.6" cy="263.1" r="2" fill="none" stroke="#111" stroke-width="1.1"/>
<circle cx="480.9" cy="265.2" r="2" fill="none" stroke="#111" stroke-width="1.1"/>
<path d="M469.7 222 V218.9 H484.5 V222" fill="none" stroke="#333" stroke-width="0.9"/>
<path d="M473.3 214.65L473.3 217.55M472.04 215.38L474.56 216.82M474.56 215.38L472.04 216.82" stroke="#1a1a1a" stroke-width="1.0" stroke-linecap="round"/>
<path d="M477.5 214.65L477.5 217.55M476.24 215.38L478.76 216.82M478.76 215.38L476.24 216.82" stroke="#1a1a1a" stroke-width="1.0" stroke-linecap="round"/>
<path d="M481.7 214.65L481.7 217.55M480.44 215.38L482.96 216.82M482.96 215.38L480.44 216.82" stroke="#1a1a1a" stroke-width="1.0" stroke-linecap="round"/>
<text x="434.5" y="302.6" font-size="8.7" text-anchor="start" font-weight="normal" fill="#2a2a2a" textLength="20.5" lengthAdjust="spacingAndGlyphs">OHT:</text>
<text x="470" y="302.7" font-size="8.7" text-anchor="middle" font-weight="normal" fill="#2a2a2a" textLength="4.6" lengthAdjust="spacingAndGlyphs">–</text>
<text x="483" y="303.5" font-size="8.9" text-anchor="middle" font-weight="normal" fill="#2a2a2a">+</text>
<text transform="translate(420.8 249.7) rotate(-90)" x="0" y="0" font-size="10.2" text-anchor="middle" font-weight="normal" fill="#2a2a2a" textLength="58.1" lengthAdjust="spacingAndGlyphs">ATP production</text>
<text transform="translate(433.5 249.4) rotate(-90)" x="0" y="0" font-size="10.2" text-anchor="middle" font-weight="normal" fill="#2a2a2a" textLength="43.75" lengthAdjust="spacingAndGlyphs">(pmol/min)</text>
<text transform="matrix(0.13776 0 0 0.12645 7.88 334.6)" x="0" y="0" font-size="100" font-weight="bold" fill="#111" style="stroke:#111;stroke-width:2.37">H</text>
<line x1="81.1" y1="369.5" x2="81.1" y2="442.7" stroke="#808080" stroke-width="0.7" stroke-dasharray="0.9 1.1"/>
<line x1="99.8" y1="369.5" x2="99.8" y2="442.7" stroke="#808080" stroke-width="0.7" stroke-dasharray="0.9 1.1"/>
<line x1="117.5" y1="369.5" x2="117.5" y2="442.7" stroke="#808080" stroke-width="0.7" stroke-dasharray="0.9 1.1"/>
<line x1="67.5" y1="367.3" x2="67.5" y2="443.3" stroke="#111" stroke-width="1.15"/>
<line x1="66.9" y1="442.7" x2="143.6" y2="442.7" stroke="#111" stroke-width="1.3"/>
<line x1="64.5" y1="370" x2="67.5" y2="370" stroke="#1a1a1a" stroke-width="1.1"/>
<text x="60.2" y="372.8" font-size="9.3" text-anchor="end" font-weight="normal" fill="#2a2a2a" textLength="14.25" lengthAdjust="spacingAndGlyphs">700</text>
<line x1="64.5" y1="380.4" x2="67.5" y2="380.4" stroke="#1a1a1a" stroke-width="1.1"/>
<text x="60.2" y="383.2" font-size="9.3" text-anchor="end" font-weight="normal" fill="#2a2a2a" textLength="14.25" lengthAdjust="spacingAndGlyphs">600</text>
<line x1="64.5" y1="390.8" x2="67.5" y2="390.8" stroke="#1a1a1a" stroke-width="1.1"/>
<text x="60.2" y="393.6" font-size="9.3" text-anchor="end" font-weight="normal" fill="#2a2a2a" textLength="14.25" lengthAdjust="spacingAndGlyphs">500</text>
<line x1="64.5" y1="401.2" x2="67.5" y2="401.2" stroke="#1a1a1a" stroke-width="1.1"/>
<text x="60.2" y="404" font-size="9.3" text-anchor="end" font-weight="normal" fill="#2a2a2a" textLength="14.25" lengthAdjust="spacingAndGlyphs">400</text>
<line x1="64.5" y1="411.6" x2="67.5" y2="411.6" stroke="#1a1a1a" stroke-width="1.1"/>
<text x="60.2" y="414.4" font-size="9.3" text-anchor="end" font-weight="normal" fill="#2a2a2a" textLength="14.25" lengthAdjust="spacingAndGlyphs">300</text>
<line x1="64.5" y1="421.9" x2="67.5" y2="421.9" stroke="#1a1a1a" stroke-width="1.1"/>
<text x="60.2" y="424.7" font-size="9.3" text-anchor="end" font-weight="normal" fill="#2a2a2a" textLength="14.25" lengthAdjust="spacingAndGlyphs">200</text>
<line x1="64.5" y1="432.3" x2="67.5" y2="432.3" stroke="#1a1a1a" stroke-width="1.1"/>
<text x="60.2" y="435.1" font-size="9.3" text-anchor="end" font-weight="normal" fill="#2a2a2a" textLength="14.25" lengthAdjust="spacingAndGlyphs">100</text>
<line x1="64.5" y1="442.7" x2="67.5" y2="442.7" stroke="#1a1a1a" stroke-width="1.1"/>
<text x="60.2" y="445.5" font-size="9.3" text-anchor="end" font-weight="normal" fill="#2a2a2a" textLength="4.75" lengthAdjust="spacingAndGlyphs">0</text>
<line x1="67.3" y1="442.7" x2="67.3" y2="445.7" stroke="#1a1a1a" stroke-width="1.1"/>
<text x="67.3" y="457.5" font-size="9.3" text-anchor="middle" font-weight="normal" fill="#2a2a2a" textLength="4.75" lengthAdjust="spacingAndGlyphs">0</text>
<line x1="85.6" y1="442.7" x2="85.6" y2="445.7" stroke="#1a1a1a" stroke-width="1.1"/>
<text x="85.6" y="457.5" font-size="9.3" text-anchor="middle" font-weight="normal" fill="#2a2a2a" textLength="9.5" lengthAdjust="spacingAndGlyphs">20</text>
<line x1="103.8" y1="442.7" x2="103.8" y2="445.7" stroke="#1a1a1a" stroke-width="1.1"/>
<text x="103.8" y="457.5" font-size="9.3" text-anchor="middle" font-weight="normal" fill="#2a2a2a" textLength="9.5" lengthAdjust="spacingAndGlyphs">40</text>
<line x1="122.3" y1="442.7" x2="122.3" y2="445.7" stroke="#1a1a1a" stroke-width="1.1"/>
<text x="122.3" y="457.5" font-size="9.3" text-anchor="middle" font-weight="normal" fill="#2a2a2a" textLength="9.5" lengthAdjust="spacingAndGlyphs">60</text>
<line x1="140.5" y1="442.7" x2="140.5" y2="445.7" stroke="#1a1a1a" stroke-width="1.1"/>
<text x="140.5" y="457.5" font-size="9.3" text-anchor="middle" font-weight="normal" fill="#2a2a2a" textLength="9.5" lengthAdjust="spacingAndGlyphs">80</text>
<text transform="translate(81.7 369) rotate(-47)" x="0" y="0" font-size="9.4" text-anchor="start" font-weight="normal" fill="#2a2a2a" textLength="21.5" lengthAdjust="spacingAndGlyphs">Oligo</text>
<text transform="translate(100 369) rotate(-47)" x="0" y="0" font-size="9.4" text-anchor="start" font-weight="normal" fill="#2a2a2a" textLength="22" lengthAdjust="spacingAndGlyphs">FCCP</text>
<text transform="translate(117.7 369) rotate(-47)" x="0" y="0" font-size="9.4" text-anchor="start" font-weight="normal" fill="#2a2a2a" textLength="35" lengthAdjust="spacingAndGlyphs">Rot&amp;Ant</text>
<line x1="68.3" y1="399.5" x2="68.3" y2="416.2" stroke="#d4892e" stroke-width="0.95"/>
<line x1="66.1" y1="399.5" x2="70.5" y2="399.5" stroke="#d4892e" stroke-width="0.95"/>
<line x1="66.1" y1="416.2" x2="70.5" y2="416.2" stroke="#d4892e" stroke-width="0.95"/>
<line x1="74.44" y1="401.2" x2="74.44" y2="417.1" stroke="#d4892e" stroke-width="0.95"/>
<line x1="72.24" y1="401.2" x2="76.64" y2="401.2" stroke="#d4892e" stroke-width="0.95"/>
<line x1="72.24" y1="417.1" x2="76.64" y2="417.1" stroke="#d4892e" stroke-width="0.95"/>
<line x1="80.58" y1="402" x2="80.58" y2="417.1" stroke="#d4892e" stroke-width="0.95"/>
<line x1="78.38" y1="402" x2="82.78" y2="402" stroke="#d4892e" stroke-width="0.95"/>
<line x1="78.38" y1="417.1" x2="82.78" y2="417.1" stroke="#d4892e" stroke-width="0.95"/>
<line x1="86.72" y1="415.4" x2="86.72" y2="438.7" stroke="#d4892e" stroke-width="0.95"/>
<line x1="84.52" y1="415.4" x2="88.92" y2="415.4" stroke="#d4892e" stroke-width="0.95"/>
<line x1="84.52" y1="438.7" x2="88.92" y2="438.7" stroke="#d4892e" stroke-width="0.95"/>
<line x1="92.86" y1="425.8" x2="92.86" y2="434.8" stroke="#d4892e" stroke-width="0.95"/>
<line x1="90.66" y1="425.8" x2="95.06" y2="425.8" stroke="#d4892e" stroke-width="0.95"/>
<line x1="90.66" y1="434.8" x2="95.06" y2="434.8" stroke="#d4892e" stroke-width="0.95"/>
<line x1="99" y1="426.6" x2="99" y2="434.8" stroke="#d4892e" stroke-width="0.95"/>
<line x1="96.8" y1="426.6" x2="101.2" y2="426.6" stroke="#d4892e" stroke-width="0.95"/>
<line x1="96.8" y1="434.8" x2="101.2" y2="434.8" stroke="#d4892e" stroke-width="0.95"/>
<line x1="105.14" y1="385.6" x2="105.14" y2="417.1" stroke="#d4892e" stroke-width="0.95"/>
<line x1="102.94" y1="385.6" x2="107.34" y2="385.6" stroke="#d4892e" stroke-width="0.95"/>
<line x1="102.94" y1="417.1" x2="107.34" y2="417.1" stroke="#d4892e" stroke-width="0.95"/>
<line x1="111.28" y1="395.5" x2="111.28" y2="422.3" stroke="#d4892e" stroke-width="0.95"/>
<line x1="109.08" y1="395.5" x2="113.48" y2="395.5" stroke="#d4892e" stroke-width="0.95"/>
<line x1="109.08" y1="422.3" x2="113.48" y2="422.3" stroke="#d4892e" stroke-width="0.95"/>
<line x1="117.42" y1="402.4" x2="117.42" y2="423.7" stroke="#d4892e" stroke-width="0.95"/>
<line x1="115.22" y1="402.4" x2="119.62" y2="402.4" stroke="#d4892e" stroke-width="0.95"/>
<line x1="115.22" y1="423.7" x2="119.62" y2="423.7" stroke="#d4892e" stroke-width="0.95"/>
<line x1="123.56" y1="433.5" x2="123.56" y2="441.4" stroke="#d4892e" stroke-width="0.95"/>
<line x1="121.36" y1="433.5" x2="125.76" y2="433.5" stroke="#d4892e" stroke-width="0.95"/>
<line x1="121.36" y1="441.4" x2="125.76" y2="441.4" stroke="#d4892e" stroke-width="0.95"/>
<polyline points="68.3,407 74.44,409 80.58,409.5 86.72,428 92.86,431 99,431 105.14,402 111.28,410 117.42,413 123.56,439 129.7,439.2 135.84,439.2" fill="none" stroke="#d4892e" stroke-width="1.1" stroke-linejoin="round"/>
<circle cx="68.3" cy="407" r="1.9" fill="#d4892e"/>
<circle cx="74.44" cy="409" r="1.9" fill="#d4892e"/>
<circle cx="80.58" cy="409.5" r="1.9" fill="#d4892e"/>
<circle cx="86.72" cy="428" r="1.9" fill="#d4892e"/>
<circle cx="92.86" cy="431" r="1.9" fill="#d4892e"/>
<circle cx="99" cy="431" r="1.9" fill="#d4892e"/>
<circle cx="105.14" cy="402" r="1.9" fill="#d4892e"/>
<circle cx="111.28" cy="410" r="1.9" fill="#d4892e"/>
<circle cx="117.42" cy="413" r="1.9" fill="#d4892e"/>
<circle cx="123.56" cy="439" r="1.9" fill="#d4892e"/>
<circle cx="129.7" cy="439.2" r="1.9" fill="#d4892e"/>
<circle cx="135.84" cy="439.2" r="1.9" fill="#d4892e"/>
<line x1="68.3" y1="403" x2="68.3" y2="410" stroke="#2f8a78" stroke-width="0.95"/>
<line x1="66.1" y1="403" x2="70.5" y2="403" stroke="#2f8a78" stroke-width="0.95"/>
<line x1="66.1" y1="410" x2="70.5" y2="410" stroke="#2f8a78" stroke-width="0.95"/>
<line x1="74.44" y1="406" x2="74.44" y2="411" stroke="#2f8a78" stroke-width="0.95"/>
<line x1="72.24" y1="406" x2="76.64" y2="406" stroke="#2f8a78" stroke-width="0.95"/>
<line x1="72.24" y1="411" x2="76.64" y2="411" stroke="#2f8a78" stroke-width="0.95"/>
<line x1="80.58" y1="406.5" x2="80.58" y2="412" stroke="#2f8a78" stroke-width="0.95"/>
<line x1="78.38" y1="406.5" x2="82.78" y2="406.5" stroke="#2f8a78" stroke-width="0.95"/>
<line x1="78.38" y1="412" x2="82.78" y2="412" stroke="#2f8a78" stroke-width="0.95"/>
<line x1="86.72" y1="428" x2="86.72" y2="433" stroke="#2f8a78" stroke-width="0.95"/>
<line x1="84.52" y1="428" x2="88.92" y2="428" stroke="#2f8a78" stroke-width="0.95"/>
<line x1="84.52" y1="433" x2="88.92" y2="433" stroke="#2f8a78" stroke-width="0.95"/>
<line x1="92.86" y1="429" x2="92.86" y2="434" stroke="#2f8a78" stroke-width="0.95"/>
<line x1="90.66" y1="429" x2="95.06" y2="429" stroke="#2f8a78" stroke-width="0.95"/>
<line x1="90.66" y1="434" x2="95.06" y2="434" stroke="#2f8a78" stroke-width="0.95"/>
<line x1="99" y1="429" x2="99" y2="434" stroke="#2f8a78" stroke-width="0.95"/>
<line x1="96.8" y1="429" x2="101.2" y2="429" stroke="#2f8a78" stroke-width="0.95"/>
<line x1="96.8" y1="434" x2="101.2" y2="434" stroke="#2f8a78" stroke-width="0.95"/>
<line x1="105.14" y1="397" x2="105.14" y2="410" stroke="#2f8a78" stroke-width="0.95"/>
<line x1="102.94" y1="397" x2="107.34" y2="397" stroke="#2f8a78" stroke-width="0.95"/>
<line x1="102.94" y1="410" x2="107.34" y2="410" stroke="#2f8a78" stroke-width="0.95"/>
<line x1="111.28" y1="406" x2="111.28" y2="416" stroke="#2f8a78" stroke-width="0.95"/>
<line x1="109.08" y1="406" x2="113.48" y2="406" stroke="#2f8a78" stroke-width="0.95"/>
<line x1="109.08" y1="416" x2="113.48" y2="416" stroke="#2f8a78" stroke-width="0.95"/>
<line x1="117.42" y1="411" x2="117.42" y2="418" stroke="#2f8a78" stroke-width="0.95"/>
<line x1="115.22" y1="411" x2="119.62" y2="411" stroke="#2f8a78" stroke-width="0.95"/>
<line x1="115.22" y1="418" x2="119.62" y2="418" stroke="#2f8a78" stroke-width="0.95"/>
<polyline points="68.3,406.4 74.44,408.5 80.58,409.3 86.72,430.6 92.86,431.3 99,431.3 105.14,404.1 111.28,411.1 117.42,415 123.56,439.1 129.7,439.1 135.84,439.1" fill="none" stroke="#1f7040" stroke-width="1.1" stroke-linejoin="round"/>
<circle cx="68.3" cy="406.4" r="2.1" fill="#1f7040"/>
<circle cx="74.44" cy="408.5" r="2.1" fill="#1f7040"/>
<circle cx="80.58" cy="409.3" r="2.1" fill="#1f7040"/>
<circle cx="86.72" cy="430.6" r="2.1" fill="#1f7040"/>
<circle cx="92.86" cy="431.3" r="2.1" fill="#1f7040"/>
<circle cx="99" cy="431.3" r="2.1" fill="#1f7040"/>
<circle cx="105.14" cy="404.1" r="2.1" fill="#1f7040"/>
<circle cx="111.28" cy="411.1" r="2.1" fill="#1f7040"/>
<circle cx="117.42" cy="415" r="2.1" fill="#1f7040"/>
<circle cx="123.56" cy="439.1" r="2.1" fill="#1f7040"/>
<circle cx="129.7" cy="439.1" r="2.1" fill="#1f7040"/>
<circle cx="135.84" cy="439.1" r="2.1" fill="#1f7040"/>
<text transform="translate(38.8 404.4) rotate(-90)" x="0" y="0" font-size="10.8" text-anchor="middle" font-weight="normal" fill="#2a2a2a" textLength="62" lengthAdjust="spacingAndGlyphs">OCR (pmol/min)</text>
<text x="106.35" y="472.8" font-size="10.8" text-anchor="middle" font-weight="normal" fill="#2a2a2a" textLength="41.9" lengthAdjust="spacingAndGlyphs">Time (min)</text>
<line x1="171.25" y1="375.8" x2="187.5" y2="375.8" stroke="#1a6550" stroke-width="0.9"/>
<circle cx="179.4" cy="375.8" r="1.7" fill="#1a6550"/>
<text x="191" y="378.6" font-size="9.2" text-anchor="start" font-weight="normal" fill="#2a2a2a" textLength="28.2" lengthAdjust="spacingAndGlyphs">Control</text>
<line x1="171.25" y1="391.5" x2="187.5" y2="391.5" stroke="#dca060" stroke-width="1.1"/>
<circle cx="179.4" cy="391.5" r="1.7" fill="#dca060"/>
<text x="191" y="394.3" font-size="9.2" text-anchor="start" font-weight="normal" fill="#2a2a2a" textLength="17.1" lengthAdjust="spacingAndGlyphs">OHT</text>
<text transform="matrix(0.11806 0 0 0.12645 255.56 334.4)" x="0" y="0" font-size="100" font-weight="bold" fill="#111" style="stroke:#111;stroke-width:2.37">I</text>
<text x="298.9" y="356.5" font-size="10.4" text-anchor="start" font-weight="normal" fill="#2a2a2a" textLength="66.3" lengthAdjust="spacingAndGlyphs">Control T-ALL</text>
<rect x="322" y="390.5" width="7.25" height="51.5" fill="#35a3dc"/>
<rect x="334.5" y="394.25" width="7.25" height="47.75" fill="#e0157c"/>
<line x1="317.5" y1="366.4" x2="317.5" y2="442.6" stroke="#111" stroke-width="1.15"/>
<line x1="316.9" y1="442" x2="346.25" y2="442" stroke="#111" stroke-width="1.3"/>
<line x1="314.5" y1="369.5" x2="317.5" y2="369.5" stroke="#1a1a1a" stroke-width="1.1"/>
<text x="309.9" y="372.3" font-size="9.3" text-anchor="end" font-weight="normal" fill="#2a2a2a" textLength="14.25" lengthAdjust="spacingAndGlyphs">400</text>
<line x1="314.5" y1="387.6" x2="317.5" y2="387.6" stroke="#1a1a1a" stroke-width="1.1"/>
<text x="309.9" y="390.4" font-size="9.3" text-anchor="end" font-weight="normal" fill="#2a2a2a" textLength="14.25" lengthAdjust="spacingAndGlyphs">300</text>
<line x1="314.5" y1="405.8" x2="317.5" y2="405.8" stroke="#1a1a1a" stroke-width="1.1"/>
<text x="309.9" y="408.6" font-size="9.3" text-anchor="end" font-weight="normal" fill="#2a2a2a" textLength="14.25" lengthAdjust="spacingAndGlyphs">200</text>
<line x1="314.5" y1="423.9" x2="317.5" y2="423.9" stroke="#1a1a1a" stroke-width="1.1"/>
<text x="309.9" y="426.7" font-size="9.3" text-anchor="end" font-weight="normal" fill="#2a2a2a" textLength="14.25" lengthAdjust="spacingAndGlyphs">100</text>
<line x1="314.5" y1="442" x2="317.5" y2="442" stroke="#1a1a1a" stroke-width="1.1"/>
<text x="309.9" y="444.8" font-size="9.3" text-anchor="end" font-weight="normal" fill="#2a2a2a" textLength="4.75" lengthAdjust="spacingAndGlyphs">0</text>
<line x1="325.6" y1="442" x2="325.6" y2="444.6" stroke="#1a1a1a" stroke-width="1"/>
<line x1="338.1" y1="442" x2="338.1" y2="444.6" stroke="#1a1a1a" stroke-width="1"/>
<circle cx="323.25" cy="384.25" r="2" fill="none" stroke="#111" stroke-width="1.1"/>
<circle cx="327.5" cy="388.25" r="2" fill="none" stroke="#111" stroke-width="1.1"/>
<circle cx="325.5" cy="397" r="2" fill="none" stroke="#111" stroke-width="1.1"/>
<circle cx="338" cy="385.5" r="2" fill="none" stroke="#111" stroke-width="1.1"/>
<circle cx="338" cy="390.75" r="2" fill="none" stroke="#111" stroke-width="1.1"/>
<circle cx="337.5" cy="403.75" r="2" fill="none" stroke="#111" stroke-width="1.1"/>
<path d="M325.75 379.7 V376.8 H340 V379.7" fill="none" stroke="#333" stroke-width="0.9"/>
<text x="332.88" y="374.6" font-size="8.4" text-anchor="middle" font-weight="normal" fill="#333">ns</text>
<text x="289.5" y="457" font-size="8.7" text-anchor="start" font-weight="normal" fill="#2a2a2a" textLength="21" lengthAdjust="spacingAndGlyphs">OHT:</text>
<text x="325.6" y="457.1" font-size="8.7" text-anchor="middle" font-weight="normal" fill="#2a2a2a" textLength="4.6" lengthAdjust="spacingAndGlyphs">–</text>
<text x="338.1" y="457.9" font-size="8.9" text-anchor="middle" font-weight="normal" fill="#2a2a2a">+</text>
<text transform="translate(276.2 404.1) rotate(-90)" x="0" y="0" font-size="10.2" text-anchor="middle" font-weight="normal" fill="#2a2a2a" textLength="62.5" lengthAdjust="spacingAndGlyphs">Basal respiration</text>
<text transform="translate(288.8 404.4) rotate(-90)" x="0" y="0" font-size="10.2" text-anchor="middle" font-weight="normal" fill="#2a2a2a" textLength="44" lengthAdjust="spacingAndGlyphs">(pmol/min)</text>
<text transform="matrix(0.09725 0 0 0.12645 400.05 334.3)" x="0" y="0" font-size="100" font-weight="bold" fill="#111" style="stroke:#111;stroke-width:2.37">J</text>
<text x="443.4" y="358.1" font-size="10.4" text-anchor="start" font-weight="normal" fill="#2a2a2a" textLength="65.1" lengthAdjust="spacingAndGlyphs">Control T-ALL</text>
<rect x="466.75" y="395" width="7" height="47.5" fill="#35a3dc"/>
<rect x="479.25" y="408.25" width="7.5" height="34.25" fill="#e0157c"/>
<line x1="462.5" y1="368.2" x2="462.5" y2="443.1" stroke="#111" stroke-width="1.15"/>
<line x1="461.9" y1="442.5" x2="490.75" y2="442.5" stroke="#111" stroke-width="1.3"/>
<line x1="459.5" y1="370.75" x2="462.5" y2="370.75" stroke="#1a1a1a" stroke-width="1.1"/>
<text x="455" y="373.55" font-size="9.3" text-anchor="end" font-weight="normal" fill="#2a2a2a" textLength="14.25" lengthAdjust="spacingAndGlyphs">400</text>
<line x1="459.5" y1="388.7" x2="462.5" y2="388.7" stroke="#1a1a1a" stroke-width="1.1"/>
<text x="455" y="391.5" font-size="9.3" text-anchor="end" font-weight="normal" fill="#2a2a2a" textLength="14.25" lengthAdjust="spacingAndGlyphs">300</text>
<line x1="459.5" y1="406.6" x2="462.5" y2="406.6" stroke="#1a1a1a" stroke-width="1.1"/>
<text x="455" y="409.4" font-size="9.3" text-anchor="end" font-weight="normal" fill="#2a2a2a" textLength="14.25" lengthAdjust="spacingAndGlyphs">200</text>
<line x1="459.5" y1="424.6" x2="462.5" y2="424.6" stroke="#1a1a1a" stroke-width="1.1"/>
<text x="455" y="427.4" font-size="9.3" text-anchor="end" font-weight="normal" fill="#2a2a2a" textLength="14.25" lengthAdjust="spacingAndGlyphs">100</text>
<line x1="459.5" y1="442.5" x2="462.5" y2="442.5" stroke="#1a1a1a" stroke-width="1.1"/>
<text x="455" y="445.3" font-size="9.3" text-anchor="end" font-weight="normal" fill="#2a2a2a" textLength="4.75" lengthAdjust="spacingAndGlyphs">0</text>
<line x1="470.3" y1="442.5" x2="470.3" y2="445.1" stroke="#1a1a1a" stroke-width="1"/>
<line x1="483" y1="442.5" x2="483" y2="445.1" stroke="#1a1a1a" stroke-width="1"/>
<circle cx="468.25" cy="389.5" r="2" fill="none" stroke="#111" stroke-width="1.1"/>
<circle cx="472.5" cy="389.5" r="2" fill="none" stroke="#111" stroke-width="1.1"/>
<circle cx="470.5" cy="402.5" r="2" fill="none" stroke="#111" stroke-width="1.1"/>
<circle cx="482.5" cy="400.75" r="2" fill="none" stroke="#111" stroke-width="1.1"/>
<circle cx="482.5" cy="406.25" r="2" fill="none" stroke="#111" stroke-width="1.1"/>
<circle cx="482.5" cy="414.5" r="2" fill="none" stroke="#111" stroke-width="1.1"/>
<path d="M470.6 384 V380.6 H484.5 V384" fill="none" stroke="#333" stroke-width="0.9"/>
<text x="477.55" y="378.8" font-size="8.4" text-anchor="middle" font-weight="normal" fill="#333">ns</text>
<text x="434.5" y="457.5" font-size="8.7" text-anchor="start" font-weight="normal" fill="#2a2a2a" textLength="20.5" lengthAdjust="spacingAndGlyphs">OHT:</text>
<text x="470.3" y="457.6" font-size="8.7" text-anchor="middle" font-weight="normal" fill="#2a2a2a" textLength="4.6" lengthAdjust="spacingAndGlyphs">–</text>
<text x="483" y="458.4" font-size="8.9" text-anchor="middle" font-weight="normal" fill="#2a2a2a">+</text>
<text transform="translate(420.8 405) rotate(-90)" x="0" y="0" font-size="10.2" text-anchor="middle" font-weight="normal" fill="#2a2a2a" textLength="58.1" lengthAdjust="spacingAndGlyphs">ATP production</text>
<text transform="translate(433.5 405) rotate(-90)" x="0" y="0" font-size="10.2" text-anchor="middle" font-weight="normal" fill="#2a2a2a" textLength="43.75" lengthAdjust="spacingAndGlyphs">(pmol/min)</text>
<text transform="matrix(0.12558 0 0 0.12645 7.96 489.6)" x="0" y="0" font-size="100" font-weight="bold" fill="#111" style="stroke:#111;stroke-width:2.37">K</text>
<line x1="83.5" y1="527.7" x2="83.5" y2="599.2" stroke="#808080" stroke-width="0.7" stroke-dasharray="0.9 1.1"/>
<line x1="105.6" y1="527.7" x2="105.6" y2="599.2" stroke="#808080" stroke-width="0.7" stroke-dasharray="0.9 1.1"/>
<line x1="126.9" y1="527.7" x2="126.9" y2="599.2" stroke="#808080" stroke-width="0.7" stroke-dasharray="0.9 1.1"/>
<line x1="67.5" y1="534.4" x2="67.5" y2="599.8" stroke="#111" stroke-width="1.15"/>
<line x1="66.9" y1="599.2" x2="156.2" y2="599.2" stroke="#111" stroke-width="1.3"/>
<line x1="64.5" y1="537.3" x2="67.5" y2="537.3" stroke="#1a1a1a" stroke-width="1.1"/>
<text x="60.2" y="540.1" font-size="9.3" text-anchor="end" font-weight="normal" fill="#2a2a2a" textLength="14.25" lengthAdjust="spacingAndGlyphs">700</text>
<line x1="64.5" y1="546.2" x2="67.5" y2="546.2" stroke="#1a1a1a" stroke-width="1.1"/>
<text x="60.2" y="549" font-size="9.3" text-anchor="end" font-weight="normal" fill="#2a2a2a" textLength="14.25" lengthAdjust="spacingAndGlyphs">600</text>
<line x1="64.5" y1="555.1" x2="67.5" y2="555.1" stroke="#1a1a1a" stroke-width="1.1"/>
<text x="60.2" y="557.9" font-size="9.3" text-anchor="end" font-weight="normal" fill="#2a2a2a" textLength="14.25" lengthAdjust="spacingAndGlyphs">500</text>
<line x1="64.5" y1="564" x2="67.5" y2="564" stroke="#1a1a1a" stroke-width="1.1"/>
<text x="60.2" y="566.8" font-size="9.3" text-anchor="end" font-weight="normal" fill="#2a2a2a" textLength="14.25" lengthAdjust="spacingAndGlyphs">400</text>
<line x1="64.5" y1="572.9" x2="67.5" y2="572.9" stroke="#1a1a1a" stroke-width="1.1"/>
<text x="60.2" y="575.7" font-size="9.3" text-anchor="end" font-weight="normal" fill="#2a2a2a" textLength="14.25" lengthAdjust="spacingAndGlyphs">300</text>
<line x1="64.5" y1="581.8" x2="67.5" y2="581.8" stroke="#1a1a1a" stroke-width="1.1"/>
<text x="60.2" y="584.6" font-size="9.3" text-anchor="end" font-weight="normal" fill="#2a2a2a" textLength="14.25" lengthAdjust="spacingAndGlyphs">200</text>
<line x1="64.5" y1="590.6" x2="67.5" y2="590.6" stroke="#1a1a1a" stroke-width="1.1"/>
<text x="60.2" y="593.4" font-size="9.3" text-anchor="end" font-weight="normal" fill="#2a2a2a" textLength="14.25" lengthAdjust="spacingAndGlyphs">100</text>
<line x1="64.5" y1="599.2" x2="67.5" y2="599.2" stroke="#1a1a1a" stroke-width="1.1"/>
<text x="60.2" y="602" font-size="9.3" text-anchor="end" font-weight="normal" fill="#2a2a2a" textLength="4.75" lengthAdjust="spacingAndGlyphs">0</text>
<line x1="67.3" y1="599.2" x2="67.3" y2="602.2" stroke="#1a1a1a" stroke-width="1.1"/>
<text x="67.3" y="614.5" font-size="9.3" text-anchor="middle" font-weight="normal" fill="#2a2a2a" textLength="4.75" lengthAdjust="spacingAndGlyphs">0</text>
<line x1="89.2" y1="599.2" x2="89.2" y2="602.2" stroke="#1a1a1a" stroke-width="1.1"/>
<text x="89.2" y="614.5" font-size="9.3" text-anchor="middle" font-weight="normal" fill="#2a2a2a" textLength="9.5" lengthAdjust="spacingAndGlyphs">20</text>
<line x1="111" y1="599.2" x2="111" y2="602.2" stroke="#1a1a1a" stroke-width="1.1"/>
<text x="111" y="614.5" font-size="9.3" text-anchor="middle" font-weight="normal" fill="#2a2a2a" textLength="9.5" lengthAdjust="spacingAndGlyphs">40</text>
<line x1="132.7" y1="599.2" x2="132.7" y2="602.2" stroke="#1a1a1a" stroke-width="1.1"/>
<text x="132.7" y="614.5" font-size="9.3" text-anchor="middle" font-weight="normal" fill="#2a2a2a" textLength="9.5" lengthAdjust="spacingAndGlyphs">60</text>
<line x1="154.2" y1="599.2" x2="154.2" y2="602.2" stroke="#1a1a1a" stroke-width="1.1"/>
<text x="154.2" y="614.5" font-size="9.3" text-anchor="middle" font-weight="normal" fill="#2a2a2a" textLength="9.5" lengthAdjust="spacingAndGlyphs">80</text>
<text transform="translate(84.4 523.5) rotate(-47)" x="0" y="0" font-size="9.4" text-anchor="start" font-weight="normal" fill="#2a2a2a" textLength="21.5" lengthAdjust="spacingAndGlyphs">Oligo</text>
<text transform="translate(106.4 523.5) rotate(-47)" x="0" y="0" font-size="9.4" text-anchor="start" font-weight="normal" fill="#2a2a2a" textLength="22" lengthAdjust="spacingAndGlyphs">FCCP</text>
<text transform="translate(127.4 523.5) rotate(-47)" x="0" y="0" font-size="9.4" text-anchor="start" font-weight="normal" fill="#2a2a2a" textLength="35" lengthAdjust="spacingAndGlyphs">Rot&amp;Ant</text>
<polyline points="68.3,593.5 75.6,594 82.9,594.3 90.2,596.6 97.5,598 104.8,598 112.1,588 119.4,589.5 126.7,591 134,598.5 141.3,598.5 148.6,598.5" fill="none" stroke="#3aaa45" stroke-width="1.1" stroke-linejoin="round"/>
<circle cx="68.3" cy="593.5" r="1.9" fill="#3aaa45"/>
<circle cx="75.6" cy="594" r="1.9" fill="#3aaa45"/>
<circle cx="82.9" cy="594.3" r="1.9" fill="#3aaa45"/>
<circle cx="90.2" cy="596.6" r="1.9" fill="#3aaa45"/>
<circle cx="97.5" cy="598" r="1.9" fill="#3aaa45"/>
<circle cx="104.8" cy="598" r="1.9" fill="#3aaa45"/>
<circle cx="112.1" cy="588" r="1.9" fill="#3aaa45"/>
<circle cx="119.4" cy="589.5" r="1.9" fill="#3aaa45"/>
<circle cx="126.7" cy="591" r="1.9" fill="#3aaa45"/>
<circle cx="134" cy="598.5" r="1.9" fill="#3aaa45"/>
<circle cx="141.3" cy="598.5" r="1.9" fill="#3aaa45"/>
<circle cx="148.6" cy="598.5" r="1.9" fill="#3aaa45"/>
<line x1="68.3" y1="577.7" x2="68.3" y2="586.3" stroke="#1d4b84" stroke-width="0.95"/>
<line x1="66.1" y1="577.7" x2="70.5" y2="577.7" stroke="#1d4b84" stroke-width="0.95"/>
<line x1="66.1" y1="586.3" x2="70.5" y2="586.3" stroke="#1d4b84" stroke-width="0.95"/>
<line x1="75.6" y1="578.7" x2="75.6" y2="587" stroke="#1d4b84" stroke-width="0.95"/>
<line x1="73.4" y1="578.7" x2="77.8" y2="578.7" stroke="#1d4b84" stroke-width="0.95"/>
<line x1="73.4" y1="587" x2="77.8" y2="587" stroke="#1d4b84" stroke-width="0.95"/>
<line x1="82.9" y1="578.7" x2="82.9" y2="587.3" stroke="#1d4b84" stroke-width="0.95"/>
<line x1="80.7" y1="578.7" x2="85.1" y2="578.7" stroke="#1d4b84" stroke-width="0.95"/>
<line x1="80.7" y1="587.3" x2="85.1" y2="587.3" stroke="#1d4b84" stroke-width="0.95"/>
<line x1="90.2" y1="584.4" x2="90.2" y2="593.5" stroke="#1d4b84" stroke-width="0.95"/>
<line x1="88" y1="584.4" x2="92.4" y2="584.4" stroke="#1d4b84" stroke-width="0.95"/>
<line x1="88" y1="593.5" x2="92.4" y2="593.5" stroke="#1d4b84" stroke-width="0.95"/>
<line x1="97.5" y1="589.2" x2="97.5" y2="595.4" stroke="#1d4b84" stroke-width="0.95"/>
<line x1="95.3" y1="589.2" x2="99.7" y2="589.2" stroke="#1d4b84" stroke-width="0.95"/>
<line x1="95.3" y1="595.4" x2="99.7" y2="595.4" stroke="#1d4b84" stroke-width="0.95"/>
<line x1="104.8" y1="591.5" x2="104.8" y2="596.3" stroke="#1d4b84" stroke-width="0.95"/>
<line x1="102.6" y1="591.5" x2="107" y2="591.5" stroke="#1d4b84" stroke-width="0.95"/>
<line x1="102.6" y1="596.3" x2="107" y2="596.3" stroke="#1d4b84" stroke-width="0.95"/>
<line x1="112.1" y1="548.5" x2="112.1" y2="559.4" stroke="#1d4b84" stroke-width="0.95"/>
<line x1="109.9" y1="548.5" x2="114.3" y2="548.5" stroke="#1d4b84" stroke-width="0.95"/>
<line x1="109.9" y1="559.4" x2="114.3" y2="559.4" stroke="#1d4b84" stroke-width="0.95"/>
<line x1="119.4" y1="554.6" x2="119.4" y2="563.3" stroke="#1d4b84" stroke-width="0.95"/>
<line x1="117.2" y1="554.6" x2="121.6" y2="554.6" stroke="#1d4b84" stroke-width="0.95"/>
<line x1="117.2" y1="563.3" x2="121.6" y2="563.3" stroke="#1d4b84" stroke-width="0.95"/>
<line x1="126.7" y1="557.1" x2="126.7" y2="565.2" stroke="#1d4b84" stroke-width="0.95"/>
<line x1="124.5" y1="557.1" x2="128.9" y2="557.1" stroke="#1d4b84" stroke-width="0.95"/>
<line x1="124.5" y1="565.2" x2="128.9" y2="565.2" stroke="#1d4b84" stroke-width="0.95"/>
<polyline points="68.3,582.1 75.6,582.9 82.9,582.9 90.2,588.8 97.5,592.5 104.8,594 112.1,554.2 119.4,559 126.7,561.3 134,596.5 141.3,596.9 148.6,596.9" fill="none" stroke="#1d4b84" stroke-width="1.1" stroke-linejoin="round"/>
<circle cx="68.3" cy="582.1" r="1.9" fill="#1d4b84"/>
<circle cx="75.6" cy="582.9" r="1.9" fill="#1d4b84"/>
<circle cx="82.9" cy="582.9" r="1.9" fill="#1d4b84"/>
<circle cx="90.2" cy="588.8" r="1.9" fill="#1d4b84"/>
<circle cx="97.5" cy="592.5" r="1.9" fill="#1d4b84"/>
<circle cx="104.8" cy="594" r="1.9" fill="#1d4b84"/>
<circle cx="112.1" cy="554.2" r="1.9" fill="#1d4b84"/>
<circle cx="119.4" cy="559" r="1.9" fill="#1d4b84"/>
<circle cx="126.7" cy="561.3" r="1.9" fill="#1d4b84"/>
<circle cx="134" cy="596.5" r="1.9" fill="#1d4b84"/>
<circle cx="141.3" cy="596.9" r="1.9" fill="#1d4b84"/>
<circle cx="148.6" cy="596.9" r="1.9" fill="#1d4b84"/>
<line x1="112.1" y1="582.5" x2="112.1" y2="590.8" stroke="#c8283a" stroke-width="0.95"/>
<line x1="109.9" y1="582.5" x2="114.3" y2="582.5" stroke="#c8283a" stroke-width="0.95"/>
<line x1="109.9" y1="590.8" x2="114.3" y2="590.8" stroke="#c8283a" stroke-width="0.95"/>
<line x1="119.4" y1="586.3" x2="119.4" y2="590.6" stroke="#c8283a" stroke-width="0.95"/>
<line x1="117.2" y1="586.3" x2="121.6" y2="586.3" stroke="#c8283a" stroke-width="0.95"/>
<line x1="117.2" y1="590.6" x2="121.6" y2="590.6" stroke="#c8283a" stroke-width="0.95"/>
<line x1="126.7" y1="588.3" x2="126.7" y2="592.1" stroke="#c8283a" stroke-width="0.95"/>
<line x1="124.5" y1="588.3" x2="128.9" y2="588.3" stroke="#c8283a" stroke-width="0.95"/>
<line x1="124.5" y1="592.1" x2="128.9" y2="592.1" stroke="#c8283a" stroke-width="0.95"/>
<polyline points="68.3,593.1 75.6,593.7 82.9,594 90.2,596.3 97.5,597.9 104.8,597.9 112.1,586.9 119.4,588.3 126.7,590.2 134,598.3 141.3,598.3 148.6,598.3" fill="none" stroke="#c8283a" stroke-width="0.9" stroke-linejoin="round"/>
<circle cx="68.3" cy="593.1" r="1.75" fill="#9a3a3a" stroke="#a82630" stroke-width="1"/>
<circle cx="75.6" cy="593.7" r="1.75" fill="#9a3a3a" stroke="#a82630" stroke-width="1"/>
<circle cx="82.9" cy="594" r="1.75" fill="#9a3a3a" stroke="#a82630" stroke-width="1"/>
<circle cx="90.2" cy="596.3" r="1.75" fill="#9a3a3a" stroke="#a82630" stroke-width="1"/>
<circle cx="97.5" cy="597.9" r="1.75" fill="#9a3a3a" stroke="#a82630" stroke-width="1"/>
<circle cx="104.8" cy="597.9" r="1.75" fill="#9a3a3a" stroke="#a82630" stroke-width="1"/>
<circle cx="112.1" cy="586.9" r="1.75" fill="#9a3a3a" stroke="#a82630" stroke-width="1"/>
<circle cx="119.4" cy="588.3" r="1.75" fill="#9a3a3a" stroke="#a82630" stroke-width="1"/>
<circle cx="126.7" cy="590.2" r="1.75" fill="#9a3a3a" stroke="#a82630" stroke-width="1"/>
<circle cx="134" cy="598.3" r="1.75" fill="#9a3a3a" stroke="#a82630" stroke-width="1"/>
<circle cx="141.3" cy="598.3" r="1.75" fill="#9a3a3a" stroke="#a82630" stroke-width="1"/>
<circle cx="148.6" cy="598.3" r="1.75" fill="#9a3a3a" stroke="#a82630" stroke-width="1"/>
<text transform="translate(38.8 566.6) rotate(-90)" x="0" y="0" font-size="10.8" text-anchor="middle" font-weight="normal" fill="#2a2a2a" textLength="63.4" lengthAdjust="spacingAndGlyphs">OCR (pmol/min)</text>
<text x="113.1" y="629.3" font-size="10.8" text-anchor="middle" font-weight="normal" fill="#2a2a2a" textLength="41.8" lengthAdjust="spacingAndGlyphs">Time (min)</text>
<line x1="171" y1="541.5" x2="185" y2="541.5" stroke="#2a4f7a" stroke-width="0.9"/>
<circle cx="178.1" cy="541.5" r="1.7" fill="#2a4f7a"/>
<text x="188.75" y="544" font-size="9.2" text-anchor="start" font-weight="normal" fill="#2a2a2a" textLength="36.6" lengthAdjust="spacingAndGlyphs">shControl</text>
<line x1="171" y1="556" x2="185" y2="556" stroke="#d4163c" stroke-width="1" stroke-dasharray="2.2 1.6"/>
<circle cx="178.1" cy="556" r="1.8" fill="#fff" stroke="#d4163c" stroke-width="1"/>
<text x="188.75" y="558.6" font-size="9.2" text-anchor="start" font-weight="normal" fill="#2a2a2a" textLength="44.5" lengthAdjust="spacingAndGlyphs">shCDC73-1</text>
<line x1="171" y1="570.3" x2="185" y2="570.3" stroke="#3f9a4a" stroke-width="0.9"/>
<circle cx="178.1" cy="570.3" r="1.7" fill="#3f9a4a"/>
<text x="188.75" y="573" font-size="9.2" text-anchor="start" font-weight="normal" fill="#2a2a2a" textLength="44.5" lengthAdjust="spacingAndGlyphs">shCDC73-2</text>
<text transform="matrix(0.10039 0 0 0.12645 255.88 489.4)" x="0" y="0" font-size="100" font-weight="bold" fill="#111" style="stroke:#111;stroke-width:2.37">L</text>
<text x="305.5" y="504.3" font-size="10.4" text-anchor="start" font-weight="normal" fill="#2a2a2a" textLength="68" lengthAdjust="spacingAndGlyphs">CUTLL1 T-ALL</text>
<rect x="322" y="542.5" width="8" height="47.9" fill="#1d4b84"/>
<rect x="335" y="571.25" width="8" height="19.15" fill="#d4163c"/>
<rect x="348" y="570" width="8" height="20.4" fill="#3aaa45"/>
<line x1="317.5" y1="515.75" x2="317.5" y2="591" stroke="#111" stroke-width="1.15"/>
<line x1="316.9" y1="590.4" x2="361" y2="590.4" stroke="#111" stroke-width="1.3"/>
<line x1="314.5" y1="517.5" x2="317.5" y2="517.5" stroke="#1a1a1a" stroke-width="1.1"/>
<text x="310.2" y="520.3" font-size="9.3" text-anchor="end" font-weight="normal" fill="#2a2a2a" textLength="14.25" lengthAdjust="spacingAndGlyphs">200</text>
<line x1="314.5" y1="535.7" x2="317.5" y2="535.7" stroke="#1a1a1a" stroke-width="1.1"/>
<text x="310.2" y="538.5" font-size="9.3" text-anchor="end" font-weight="normal" fill="#2a2a2a" textLength="14.25" lengthAdjust="spacingAndGlyphs">150</text>
<line x1="314.5" y1="553.9" x2="317.5" y2="553.9" stroke="#1a1a1a" stroke-width="1.1"/>
<text x="310.2" y="556.7" font-size="9.3" text-anchor="end" font-weight="normal" fill="#2a2a2a" textLength="14.25" lengthAdjust="spacingAndGlyphs">100</text>
<line x1="314.5" y1="572.2" x2="317.5" y2="572.2" stroke="#1a1a1a" stroke-width="1.1"/>
<text x="310.2" y="575" font-size="9.3" text-anchor="end" font-weight="normal" fill="#2a2a2a" textLength="9.5" lengthAdjust="spacingAndGlyphs">50</text>
<line x1="314.5" y1="590.4" x2="317.5" y2="590.4" stroke="#1a1a1a" stroke-width="1.1"/>
<text x="310.2" y="593.2" font-size="9.3" text-anchor="end" font-weight="normal" fill="#2a2a2a" textLength="4.75" lengthAdjust="spacingAndGlyphs">0</text>
<line x1="326" y1="590.4" x2="326" y2="593" stroke="#1a1a1a" stroke-width="1"/>
<line x1="339" y1="590.4" x2="339" y2="593" stroke="#1a1a1a" stroke-width="1"/>
<line x1="352" y1="590.4" x2="352" y2="593" stroke="#1a1a1a" stroke-width="1"/>
<circle cx="326.25" cy="532.5" r="2" fill="none" stroke="#111" stroke-width="1.1"/>
<circle cx="326.25" cy="539.5" r="2" fill="none" stroke="#111" stroke-width="1.1"/>
<circle cx="326.25" cy="553.75" r="2" fill="none" stroke="#111" stroke-width="1.1"/>
<circle cx="336.75" cy="567.5" r="2" fill="none" stroke="#111" stroke-width="1.1"/>
<circle cx="340.75" cy="570.5" r="2" fill="none" stroke="#111" stroke-width="1.1"/>
<circle cx="339.25" cy="573.75" r="2" fill="none" stroke="#111" stroke-width="1.1"/>
<circle cx="350.5" cy="569.5" r="2" fill="none" stroke="#111" stroke-width="1.1"/>
<circle cx="353.75" cy="568.25" r="2" fill="none" stroke="#111" stroke-width="1.1"/>
<circle cx="351.5" cy="571" r="2" fill="none" stroke="#111" stroke-width="1.1"/>
<path d="M325.9 527.6 V523.8 H339.2 V527.6" fill="none" stroke="#333" stroke-width="0.9"/>
<path d="M331.1 519.25L331.1 522.15M329.84 519.98L332.36 521.43M332.36 519.98L329.84 521.43" stroke="#1a1a1a" stroke-width="1.0" stroke-linecap="round"/>
<path d="M335.3 519.25L335.3 522.15M334.04 519.98L336.56 521.43M336.56 519.98L334.04 521.43" stroke="#1a1a1a" stroke-width="1.0" stroke-linecap="round"/>
<path d="M325.9 521.2 V517.2 H351.5 V521.2" fill="none" stroke="#333" stroke-width="0.9"/>
<path d="M338.5 512.55L338.5 515.45M337.24 513.27L339.76 514.73M339.76 513.27L337.24 514.73" stroke="#1a1a1a" stroke-width="1.0" stroke-linecap="round"/>
<path d="M342.7 512.55L342.7 515.45M341.44 513.27L343.96 514.73M343.96 513.27L341.44 514.73" stroke="#1a1a1a" stroke-width="1.0" stroke-linecap="round"/>
<text transform="translate(276.2 551.9) rotate(-90)" x="0" y="0" font-size="10.2" text-anchor="middle" font-weight="normal" fill="#2a2a2a" textLength="62.5" lengthAdjust="spacingAndGlyphs">Basal respiration</text>
<text transform="translate(288.8 551.9) rotate(-90)" x="0" y="0" font-size="10.2" text-anchor="middle" font-weight="normal" fill="#2a2a2a" textLength="44" lengthAdjust="spacingAndGlyphs">(pmol/min)</text>
<text transform="matrix(0.14592 0 0 0.12645 396.42 489.4)" x="0" y="0" font-size="100" font-weight="bold" fill="#111" style="stroke:#111;stroke-width:2.37">M</text>
<text x="443.7" y="504.3" font-size="10.4" text-anchor="start" font-weight="normal" fill="#2a2a2a" textLength="68" lengthAdjust="spacingAndGlyphs">CUTLL1 T-ALL</text>
<rect x="466.75" y="540" width="7.5" height="50.4" fill="#1d4b84"/>
<rect x="480" y="569.5" width="7.5" height="20.9" fill="#d4163c"/>
<rect x="493" y="572" width="7.5" height="18.4" fill="#3aaa45"/>
<line x1="462.5" y1="515.75" x2="462.5" y2="591" stroke="#111" stroke-width="1.15"/>
<line x1="461.9" y1="590.4" x2="506" y2="590.4" stroke="#111" stroke-width="1.3"/>
<line x1="459.5" y1="517.2" x2="462.5" y2="517.2" stroke="#1a1a1a" stroke-width="1.1"/>
<text x="455.3" y="520" font-size="9.3" text-anchor="end" font-weight="normal" fill="#2a2a2a" textLength="14.25" lengthAdjust="spacingAndGlyphs">150</text>
<line x1="459.5" y1="541.6" x2="462.5" y2="541.6" stroke="#1a1a1a" stroke-width="1.1"/>
<text x="455.3" y="544.4" font-size="9.3" text-anchor="end" font-weight="normal" fill="#2a2a2a" textLength="14.25" lengthAdjust="spacingAndGlyphs">100</text>
<line x1="459.5" y1="566" x2="462.5" y2="566" stroke="#1a1a1a" stroke-width="1.1"/>
<text x="455.3" y="568.8" font-size="9.3" text-anchor="end" font-weight="normal" fill="#2a2a2a" textLength="9.5" lengthAdjust="spacingAndGlyphs">50</text>
<line x1="459.5" y1="590.4" x2="462.5" y2="590.4" stroke="#1a1a1a" stroke-width="1.1"/>
<text x="455.3" y="593.2" font-size="9.3" text-anchor="end" font-weight="normal" fill="#2a2a2a" textLength="4.75" lengthAdjust="spacingAndGlyphs">0</text>
<line x1="470.5" y1="590.4" x2="470.5" y2="593" stroke="#1a1a1a" stroke-width="1"/>
<line x1="483.75" y1="590.4" x2="483.75" y2="593" stroke="#1a1a1a" stroke-width="1"/>
<line x1="496.75" y1="590.4" x2="496.75" y2="593" stroke="#1a1a1a" stroke-width="1"/>
<circle cx="471.25" cy="530.5" r="2" fill="none" stroke="#111" stroke-width="1.1"/>
<circle cx="470.75" cy="537" r="2" fill="none" stroke="#111" stroke-width="1.1"/>
<circle cx="470.75" cy="548.75" r="2" fill="none" stroke="#111" stroke-width="1.1"/>
<circle cx="482" cy="565.75" r="2" fill="none" stroke="#111" stroke-width="1.1"/>
<circle cx="485" cy="568.25" r="2" fill="none" stroke="#111" stroke-width="1.1"/>
<circle cx="483.5" cy="571" r="2" fill="none" stroke="#111" stroke-width="1.1"/>
<circle cx="495" cy="568.25" r="2" fill="none" stroke="#111" stroke-width="1.1"/>
<circle cx="498.75" cy="570.75" r="2" fill="none" stroke="#111" stroke-width="1.1"/>
<circle cx="495.5" cy="572.5" r="2" fill="none" stroke="#111" stroke-width="1.1"/>
<path d="M471.1 526.5 V522.7 H484.1 V526.5" fill="none" stroke="#333" stroke-width="0.9"/>
<path d="M476.1 518.25L476.1 521.15M474.84 518.98L477.36 520.43M477.36 518.98L474.84 520.43" stroke="#1a1a1a" stroke-width="1.0" stroke-linecap="round"/>
<path d="M480.3 518.25L480.3 521.15M479.04 518.98L481.56 520.43M481.56 518.98L479.04 520.43" stroke="#1a1a1a" stroke-width="1.0" stroke-linecap="round"/>
<path d="M471.1 520.3 V516.6 H496.3 V520.3" fill="none" stroke="#333" stroke-width="0.9"/>
<path d="M484.1 512.25L484.1 515.15M482.84 512.98L485.36 514.43M485.36 512.98L482.84 514.43" stroke="#1a1a1a" stroke-width="1.0" stroke-linecap="round"/>
<path d="M488.3 512.25L488.3 515.15M487.04 512.98L489.56 514.43M489.56 512.98L487.04 514.43" stroke="#1a1a1a" stroke-width="1.0" stroke-linecap="round"/>
<text transform="translate(420.8 552) rotate(-90)" x="0" y="0" font-size="10.2" text-anchor="middle" font-weight="normal" fill="#2a2a2a" textLength="58.1" lengthAdjust="spacingAndGlyphs">ATP production</text>
<text transform="translate(433.5 552) rotate(-90)" x="0" y="0" font-size="10.2" text-anchor="middle" font-weight="normal" fill="#2a2a2a" textLength="43.75" lengthAdjust="spacingAndGlyphs">(pmol/min)</text>
<text transform="translate(328.6 599.6) rotate(-43)" x="0" y="0" font-size="9.5" text-anchor="end" font-weight="normal" fill="#2a2a2a" textLength="40.5" lengthAdjust="spacingAndGlyphs">shControl</text>
<text transform="translate(341.6 599.6) rotate(-43)" x="0" y="0" font-size="9.5" text-anchor="end" font-weight="normal" fill="#2a2a2a" textLength="48" lengthAdjust="spacingAndGlyphs">shCDC73-1</text>
<text transform="translate(354.6 599.6) rotate(-43)" x="0" y="0" font-size="9.5" text-anchor="end" font-weight="normal" fill="#2a2a2a" textLength="48" lengthAdjust="spacingAndGlyphs">shCDC73-2</text>
<text transform="translate(473.1 599.6) rotate(-43)" x="0" y="0" font-size="9.5" text-anchor="end" font-weight="normal" fill="#2a2a2a" textLength="40.5" lengthAdjust="spacingAndGlyphs">shControl</text>
<text transform="translate(486.35 599.6) rotate(-43)" x="0" y="0" font-size="9.5" text-anchor="end" font-weight="normal" fill="#2a2a2a" textLength="48" lengthAdjust="spacingAndGlyphs">shCDC73-1</text>
<text transform="translate(499.35 599.6) rotate(-43)" x="0" y="0" font-size="9.5" text-anchor="end" font-weight="normal" fill="#2a2a2a" textLength="48" lengthAdjust="spacingAndGlyphs">shCDC73-2</text>
<rect x="0.6" y="0.6" width="518.8" height="638.8" fill="none" stroke="#454545" stroke-width="1.2"/>
</svg>
</body></html>
